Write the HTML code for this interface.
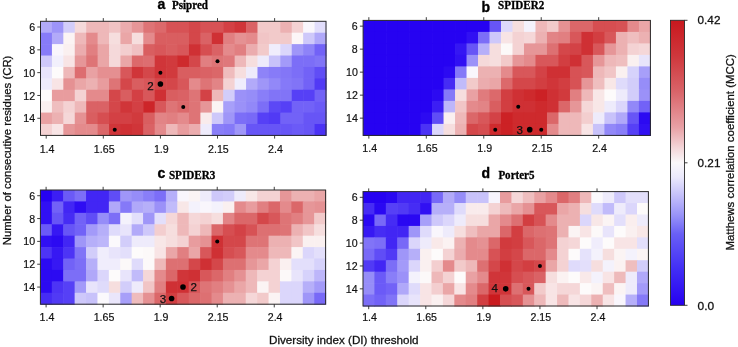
<!DOCTYPE html><html><head><meta charset="utf-8"><style>html,body{margin:0;padding:0;background:#fff;}svg{display:block;filter:blur(0.4px);}text{font-family:"Liberation Sans",sans-serif;}.tl{fill:#111;stroke:#111;stroke-width:0.18px;}.al{fill:#111;stroke:#111;stroke-width:0.28px;}</style></head><body>
<svg width="738" height="347" viewBox="0 0 738 347">
<defs><linearGradient id="cb" x1="0" y1="0" x2="0" y2="1"><stop offset="0" stop-color="rgb(200,24,30)"/><stop offset="0.125" stop-color="rgb(207,55,60)"/><stop offset="0.25" stop-color="rgb(217,100,105)"/><stop offset="0.375" stop-color="rgb(232,160,165)"/><stop offset="0.45" stop-color="rgb(244,215,218)"/><stop offset="0.5" stop-color="rgb(250,248,250)"/><stop offset="0.55" stop-color="rgb(235,233,252)"/><stop offset="0.625" stop-color="rgb(190,185,250)"/><stop offset="0.6875" stop-color="rgb(150,145,248)"/><stop offset="0.75" stop-color="rgb(105,95,245)"/><stop offset="0.875" stop-color="rgb(65,45,245)"/><stop offset="1" stop-color="rgb(38,0,240)"/></linearGradient></defs>
<rect width="738" height="347" fill="#fff"/>
<g>
<rect x="40.50" y="21.30" width="12.02" height="12.01" fill="#b2aaf9"/>
<rect x="51.92" y="21.30" width="12.02" height="12.01" fill="#9d94f8"/>
<rect x="63.34" y="21.30" width="12.02" height="12.01" fill="#d2cdfa"/>
<rect x="74.76" y="21.30" width="12.02" height="12.01" fill="#f5d9da"/>
<rect x="86.18" y="21.30" width="12.02" height="12.01" fill="#eeb8b9"/>
<rect x="97.60" y="21.30" width="12.02" height="12.01" fill="#eeb8b9"/>
<rect x="109.02" y="21.30" width="12.02" height="12.01" fill="#f0c3c4"/>
<rect x="120.44" y="21.30" width="12.02" height="12.01" fill="#ebacae"/>
<rect x="131.86" y="21.30" width="12.02" height="12.01" fill="#e69698"/>
<rect x="143.28" y="21.30" width="12.02" height="12.01" fill="#de7476"/>
<rect x="154.70" y="21.30" width="12.02" height="12.01" fill="#dc696b"/>
<rect x="166.12" y="21.30" width="12.02" height="12.01" fill="#d75255"/>
<rect x="177.54" y="21.30" width="12.02" height="12.01" fill="#d75255"/>
<rect x="188.96" y="21.30" width="12.02" height="12.01" fill="#d4474a"/>
<rect x="200.38" y="21.30" width="12.02" height="12.01" fill="#d75255"/>
<rect x="211.80" y="21.30" width="12.02" height="12.01" fill="#d75255"/>
<rect x="223.22" y="21.30" width="12.02" height="12.01" fill="#d34044"/>
<rect x="234.64" y="21.30" width="12.02" height="12.01" fill="#d03539"/>
<rect x="246.06" y="21.30" width="12.02" height="12.01" fill="#da6265"/>
<rect x="257.48" y="21.30" width="12.02" height="12.01" fill="#f2caca"/>
<rect x="268.90" y="21.30" width="12.02" height="12.01" fill="#f2caca"/>
<rect x="280.32" y="21.30" width="12.02" height="12.01" fill="#ecb1b2"/>
<rect x="291.74" y="21.30" width="12.02" height="12.01" fill="#f4d2d3"/>
<rect x="303.16" y="21.30" width="12.02" height="12.01" fill="#f9f6fc"/>
<rect x="314.58" y="21.30" width="12.02" height="12.01" fill="#e1ddfb"/>
<rect x="40.50" y="32.71" width="12.02" height="12.01" fill="#877bf8"/>
<rect x="51.92" y="32.71" width="12.02" height="12.01" fill="#b2aaf9"/>
<rect x="63.34" y="32.71" width="12.02" height="12.01" fill="#fbf4f4"/>
<rect x="74.76" y="32.71" width="12.02" height="12.01" fill="#eeb8b9"/>
<rect x="86.18" y="32.71" width="12.02" height="12.01" fill="#e48a8c"/>
<rect x="97.60" y="32.71" width="12.02" height="12.01" fill="#eeb8b9"/>
<rect x="109.02" y="32.71" width="12.02" height="12.01" fill="#f6dede"/>
<rect x="120.44" y="32.71" width="12.02" height="12.01" fill="#eaa6a7"/>
<rect x="131.86" y="32.71" width="12.02" height="12.01" fill="#f6dede"/>
<rect x="143.28" y="32.71" width="12.02" height="12.01" fill="#e48a8c"/>
<rect x="154.70" y="32.71" width="12.02" height="12.01" fill="#d95e60"/>
<rect x="166.12" y="32.71" width="12.02" height="12.01" fill="#d95e60"/>
<rect x="177.54" y="32.71" width="12.02" height="12.01" fill="#d95e60"/>
<rect x="188.96" y="32.71" width="12.02" height="12.01" fill="#d4474a"/>
<rect x="200.38" y="32.71" width="12.02" height="12.01" fill="#da6265"/>
<rect x="211.80" y="32.71" width="12.02" height="12.01" fill="#cf3034"/>
<rect x="223.22" y="32.71" width="12.02" height="12.01" fill="#e17f81"/>
<rect x="234.64" y="32.71" width="12.02" height="12.01" fill="#e59193"/>
<rect x="246.06" y="32.71" width="12.02" height="12.01" fill="#e48a8c"/>
<rect x="257.48" y="32.71" width="12.02" height="12.01" fill="#f1c5c6"/>
<rect x="268.90" y="32.71" width="12.02" height="12.01" fill="#f2caca"/>
<rect x="280.32" y="32.71" width="12.02" height="12.01" fill="#f2caca"/>
<rect x="291.74" y="32.71" width="12.02" height="12.01" fill="#fcf6f7"/>
<rect x="303.16" y="32.71" width="12.02" height="12.01" fill="#cec8fa"/>
<rect x="314.58" y="32.71" width="12.02" height="12.01" fill="#b0a8f9"/>
<rect x="40.50" y="44.12" width="12.02" height="12.01" fill="#877bf8"/>
<rect x="51.92" y="44.12" width="12.02" height="12.01" fill="#f9f6fc"/>
<rect x="63.34" y="44.12" width="12.02" height="12.01" fill="#faf0f0"/>
<rect x="74.76" y="44.12" width="12.02" height="12.01" fill="#ebacae"/>
<rect x="86.18" y="44.12" width="12.02" height="12.01" fill="#e17f81"/>
<rect x="97.60" y="44.12" width="12.02" height="12.01" fill="#eaa6a7"/>
<rect x="109.02" y="44.12" width="12.02" height="12.01" fill="#f5d9da"/>
<rect x="120.44" y="44.12" width="12.02" height="12.01" fill="#f3cecf"/>
<rect x="131.86" y="44.12" width="12.02" height="12.01" fill="#f0c0c2"/>
<rect x="143.28" y="44.12" width="12.02" height="12.01" fill="#d95e60"/>
<rect x="154.70" y="44.12" width="12.02" height="12.01" fill="#d8575a"/>
<rect x="166.12" y="44.12" width="12.02" height="12.01" fill="#d95e60"/>
<rect x="177.54" y="44.12" width="12.02" height="12.01" fill="#d8575a"/>
<rect x="188.96" y="44.12" width="12.02" height="12.01" fill="#cf3034"/>
<rect x="200.38" y="44.12" width="12.02" height="12.01" fill="#d64e51"/>
<rect x="211.80" y="44.12" width="12.02" height="12.01" fill="#da6265"/>
<rect x="223.22" y="44.12" width="12.02" height="12.01" fill="#e48a8c"/>
<rect x="234.64" y="44.12" width="12.02" height="12.01" fill="#e17f81"/>
<rect x="246.06" y="44.12" width="12.02" height="12.01" fill="#ebacae"/>
<rect x="257.48" y="44.12" width="12.02" height="12.01" fill="#f2caca"/>
<rect x="268.90" y="44.12" width="12.02" height="12.01" fill="#f0edfc"/>
<rect x="280.32" y="44.12" width="12.02" height="12.01" fill="#dbd6fb"/>
<rect x="291.74" y="44.12" width="12.02" height="12.01" fill="#9f96f8"/>
<rect x="303.16" y="44.12" width="12.02" height="12.01" fill="#8e83f8"/>
<rect x="314.58" y="44.12" width="12.02" height="12.01" fill="#7262f7"/>
<rect x="40.50" y="55.53" width="12.02" height="12.01" fill="#cec8fa"/>
<rect x="51.92" y="55.53" width="12.02" height="12.01" fill="#f2f0fc"/>
<rect x="63.34" y="55.53" width="12.02" height="12.01" fill="#f8e4e5"/>
<rect x="74.76" y="55.53" width="12.02" height="12.01" fill="#e69698"/>
<rect x="86.18" y="55.53" width="12.02" height="12.01" fill="#de7476"/>
<rect x="97.60" y="55.53" width="12.02" height="12.01" fill="#eaa6a7"/>
<rect x="109.02" y="55.53" width="12.02" height="12.01" fill="#f5d9da"/>
<rect x="120.44" y="55.53" width="12.02" height="12.01" fill="#eaa6a7"/>
<rect x="131.86" y="55.53" width="12.02" height="12.01" fill="#dc696b"/>
<rect x="143.28" y="55.53" width="12.02" height="12.01" fill="#dd6d70"/>
<rect x="154.70" y="55.53" width="12.02" height="12.01" fill="#d03539"/>
<rect x="166.12" y="55.53" width="12.02" height="12.01" fill="#d13a3d"/>
<rect x="177.54" y="55.53" width="12.02" height="12.01" fill="#ce2a2d"/>
<rect x="188.96" y="55.53" width="12.02" height="12.01" fill="#d4474a"/>
<rect x="200.38" y="55.53" width="12.02" height="12.01" fill="#e17f81"/>
<rect x="211.80" y="55.53" width="12.02" height="12.01" fill="#de7476"/>
<rect x="223.22" y="55.53" width="12.02" height="12.01" fill="#df787b"/>
<rect x="234.64" y="55.53" width="12.02" height="12.01" fill="#eeb8b9"/>
<rect x="246.06" y="55.53" width="12.02" height="12.01" fill="#f6dede"/>
<rect x="257.48" y="55.53" width="12.02" height="12.01" fill="#eeebfb"/>
<rect x="268.90" y="55.53" width="12.02" height="12.01" fill="#c8c2fa"/>
<rect x="280.32" y="55.53" width="12.02" height="12.01" fill="#a39af9"/>
<rect x="291.74" y="55.53" width="12.02" height="12.01" fill="#7c6ef7"/>
<rect x="303.16" y="55.53" width="12.02" height="12.01" fill="#7c6ef7"/>
<rect x="314.58" y="55.53" width="12.02" height="12.01" fill="#8174f7"/>
<rect x="40.50" y="66.94" width="12.02" height="12.01" fill="#e8e4fb"/>
<rect x="51.92" y="66.94" width="12.02" height="12.01" fill="#fdfbfb"/>
<rect x="63.34" y="66.94" width="12.02" height="12.01" fill="#eeb8b9"/>
<rect x="74.76" y="66.94" width="12.02" height="12.01" fill="#dd6d70"/>
<rect x="86.18" y="66.94" width="12.02" height="12.01" fill="#e9a1a3"/>
<rect x="97.60" y="66.94" width="12.02" height="12.01" fill="#e58f91"/>
<rect x="109.02" y="66.94" width="12.02" height="12.01" fill="#e58f91"/>
<rect x="120.44" y="66.94" width="12.02" height="12.01" fill="#d8575a"/>
<rect x="131.86" y="66.94" width="12.02" height="12.01" fill="#d03539"/>
<rect x="143.28" y="66.94" width="12.02" height="12.01" fill="#d4474a"/>
<rect x="154.70" y="66.94" width="12.02" height="12.01" fill="#d03539"/>
<rect x="166.12" y="66.94" width="12.02" height="12.01" fill="#d13a3d"/>
<rect x="177.54" y="66.94" width="12.02" height="12.01" fill="#d95e60"/>
<rect x="188.96" y="66.94" width="12.02" height="12.01" fill="#d95e60"/>
<rect x="200.38" y="66.94" width="12.02" height="12.01" fill="#da6265"/>
<rect x="211.80" y="66.94" width="12.02" height="12.01" fill="#db6769"/>
<rect x="223.22" y="66.94" width="12.02" height="12.01" fill="#efbcbd"/>
<rect x="234.64" y="66.94" width="12.02" height="12.01" fill="#f6dede"/>
<rect x="246.06" y="66.94" width="12.02" height="12.01" fill="#eeebfb"/>
<rect x="257.48" y="66.94" width="12.02" height="12.01" fill="#8e83f8"/>
<rect x="268.90" y="66.94" width="12.02" height="12.01" fill="#877bf8"/>
<rect x="280.32" y="66.94" width="12.02" height="12.01" fill="#8376f7"/>
<rect x="291.74" y="66.94" width="12.02" height="12.01" fill="#7c6ef7"/>
<rect x="303.16" y="66.94" width="12.02" height="12.01" fill="#7262f7"/>
<rect x="314.58" y="66.94" width="12.02" height="12.01" fill="#604df6"/>
<rect x="40.50" y="78.35" width="12.02" height="12.01" fill="#eeebfb"/>
<rect x="51.92" y="78.35" width="12.02" height="12.01" fill="#f8e4e5"/>
<rect x="63.34" y="78.35" width="12.02" height="12.01" fill="#e59193"/>
<rect x="74.76" y="78.35" width="12.02" height="12.01" fill="#eaa6a7"/>
<rect x="86.18" y="78.35" width="12.02" height="12.01" fill="#ecb1b2"/>
<rect x="97.60" y="78.35" width="12.02" height="12.01" fill="#e89c9e"/>
<rect x="109.02" y="78.35" width="12.02" height="12.01" fill="#de7476"/>
<rect x="120.44" y="78.35" width="12.02" height="12.01" fill="#d4474a"/>
<rect x="131.86" y="78.35" width="12.02" height="12.01" fill="#d95e60"/>
<rect x="143.28" y="78.35" width="12.02" height="12.01" fill="#d8575a"/>
<rect x="154.70" y="78.35" width="12.02" height="12.01" fill="#d4474a"/>
<rect x="166.12" y="78.35" width="12.02" height="12.01" fill="#d4474a"/>
<rect x="177.54" y="78.35" width="12.02" height="12.01" fill="#d8575a"/>
<rect x="188.96" y="78.35" width="12.02" height="12.01" fill="#e48a8c"/>
<rect x="200.38" y="78.35" width="12.02" height="12.01" fill="#de7476"/>
<rect x="211.80" y="78.35" width="12.02" height="12.01" fill="#e28486"/>
<rect x="223.22" y="78.35" width="12.02" height="12.01" fill="#f4d2d3"/>
<rect x="234.64" y="78.35" width="12.02" height="12.01" fill="#f0edfc"/>
<rect x="246.06" y="78.35" width="12.02" height="12.01" fill="#b2aaf9"/>
<rect x="257.48" y="78.35" width="12.02" height="12.01" fill="#9f96f8"/>
<rect x="268.90" y="78.35" width="12.02" height="12.01" fill="#9288f8"/>
<rect x="280.32" y="78.35" width="12.02" height="12.01" fill="#8579f8"/>
<rect x="291.74" y="78.35" width="12.02" height="12.01" fill="#8174f7"/>
<rect x="303.16" y="78.35" width="12.02" height="12.01" fill="#7262f7"/>
<rect x="314.58" y="78.35" width="12.02" height="12.01" fill="#513af5"/>
<rect x="40.50" y="89.76" width="12.02" height="12.01" fill="#fdfbfb"/>
<rect x="51.92" y="89.76" width="12.02" height="12.01" fill="#e89c9e"/>
<rect x="63.34" y="89.76" width="12.02" height="12.01" fill="#e89c9e"/>
<rect x="74.76" y="89.76" width="12.02" height="12.01" fill="#f4d2d3"/>
<rect x="86.18" y="89.76" width="12.02" height="12.01" fill="#e48a8c"/>
<rect x="97.60" y="89.76" width="12.02" height="12.01" fill="#e48a8c"/>
<rect x="109.02" y="89.76" width="12.02" height="12.01" fill="#d4474a"/>
<rect x="120.44" y="89.76" width="12.02" height="12.01" fill="#d95e60"/>
<rect x="131.86" y="89.76" width="12.02" height="12.01" fill="#d34044"/>
<rect x="143.28" y="89.76" width="12.02" height="12.01" fill="#d8575a"/>
<rect x="154.70" y="89.76" width="12.02" height="12.01" fill="#cf3034"/>
<rect x="166.12" y="89.76" width="12.02" height="12.01" fill="#d95e60"/>
<rect x="177.54" y="89.76" width="12.02" height="12.01" fill="#da6265"/>
<rect x="188.96" y="89.76" width="12.02" height="12.01" fill="#de7476"/>
<rect x="200.38" y="89.76" width="12.02" height="12.01" fill="#d34246"/>
<rect x="211.80" y="89.76" width="12.02" height="12.01" fill="#eeb8b9"/>
<rect x="223.22" y="89.76" width="12.02" height="12.01" fill="#d2cdfa"/>
<rect x="234.64" y="89.76" width="12.02" height="12.01" fill="#9b91f8"/>
<rect x="246.06" y="89.76" width="12.02" height="12.01" fill="#968df8"/>
<rect x="257.48" y="89.76" width="12.02" height="12.01" fill="#897ef8"/>
<rect x="268.90" y="89.76" width="12.02" height="12.01" fill="#8174f7"/>
<rect x="280.32" y="89.76" width="12.02" height="12.01" fill="#8174f7"/>
<rect x="291.74" y="89.76" width="12.02" height="12.01" fill="#5640f6"/>
<rect x="303.16" y="89.76" width="12.02" height="12.01" fill="#5640f6"/>
<rect x="314.58" y="89.76" width="12.02" height="12.01" fill="#7262f7"/>
<rect x="40.50" y="101.17" width="12.02" height="12.01" fill="#faf0f0"/>
<rect x="51.92" y="101.17" width="12.02" height="12.01" fill="#efbebf"/>
<rect x="63.34" y="101.17" width="12.02" height="12.01" fill="#f4d2d3"/>
<rect x="74.76" y="101.17" width="12.02" height="12.01" fill="#eeb8b9"/>
<rect x="86.18" y="101.17" width="12.02" height="12.01" fill="#da6265"/>
<rect x="97.60" y="101.17" width="12.02" height="12.01" fill="#da6265"/>
<rect x="109.02" y="101.17" width="12.02" height="12.01" fill="#d4474a"/>
<rect x="120.44" y="101.17" width="12.02" height="12.01" fill="#d03539"/>
<rect x="131.86" y="101.17" width="12.02" height="12.01" fill="#d34044"/>
<rect x="143.28" y="101.17" width="12.02" height="12.01" fill="#cd2529"/>
<rect x="154.70" y="101.17" width="12.02" height="12.01" fill="#d8575a"/>
<rect x="166.12" y="101.17" width="12.02" height="12.01" fill="#de7476"/>
<rect x="177.54" y="101.17" width="12.02" height="12.01" fill="#dc696b"/>
<rect x="188.96" y="101.17" width="12.02" height="12.01" fill="#de7476"/>
<rect x="200.38" y="101.17" width="12.02" height="12.01" fill="#e69698"/>
<rect x="211.80" y="101.17" width="12.02" height="12.01" fill="#fbf4f4"/>
<rect x="223.22" y="101.17" width="12.02" height="12.01" fill="#a79ff9"/>
<rect x="234.64" y="101.17" width="12.02" height="12.01" fill="#9b91f8"/>
<rect x="246.06" y="101.17" width="12.02" height="12.01" fill="#9288f8"/>
<rect x="257.48" y="101.17" width="12.02" height="12.01" fill="#7c6ef7"/>
<rect x="268.90" y="101.17" width="12.02" height="12.01" fill="#5c48f6"/>
<rect x="280.32" y="101.17" width="12.02" height="12.01" fill="#5640f6"/>
<rect x="291.74" y="101.17" width="12.02" height="12.01" fill="#7262f7"/>
<rect x="303.16" y="101.17" width="12.02" height="12.01" fill="#7262f7"/>
<rect x="314.58" y="101.17" width="12.02" height="12.01" fill="#6b5af7"/>
<rect x="40.50" y="112.58" width="12.02" height="12.01" fill="#e9a1a3"/>
<rect x="51.92" y="112.58" width="12.02" height="12.01" fill="#ecb1b2"/>
<rect x="63.34" y="112.58" width="12.02" height="12.01" fill="#f5d7d8"/>
<rect x="74.76" y="112.58" width="12.02" height="12.01" fill="#e59193"/>
<rect x="86.18" y="112.58" width="12.02" height="12.01" fill="#d95e60"/>
<rect x="97.60" y="112.58" width="12.02" height="12.01" fill="#d64e51"/>
<rect x="109.02" y="112.58" width="12.02" height="12.01" fill="#d34044"/>
<rect x="120.44" y="112.58" width="12.02" height="12.01" fill="#d34044"/>
<rect x="131.86" y="112.58" width="12.02" height="12.01" fill="#d13a3d"/>
<rect x="143.28" y="112.58" width="12.02" height="12.01" fill="#d95e60"/>
<rect x="154.70" y="112.58" width="12.02" height="12.01" fill="#e28486"/>
<rect x="166.12" y="112.58" width="12.02" height="12.01" fill="#e17f81"/>
<rect x="177.54" y="112.58" width="12.02" height="12.01" fill="#e48a8c"/>
<rect x="188.96" y="112.58" width="12.02" height="12.01" fill="#de7476"/>
<rect x="200.38" y="112.58" width="12.02" height="12.01" fill="#f9ebec"/>
<rect x="211.80" y="112.58" width="12.02" height="12.01" fill="#cec8fa"/>
<rect x="223.22" y="112.58" width="12.02" height="12.01" fill="#9f96f8"/>
<rect x="234.64" y="112.58" width="12.02" height="12.01" fill="#7c6ef7"/>
<rect x="246.06" y="112.58" width="12.02" height="12.01" fill="#7869f7"/>
<rect x="257.48" y="112.58" width="12.02" height="12.01" fill="#5640f6"/>
<rect x="268.90" y="112.58" width="12.02" height="12.01" fill="#513af5"/>
<rect x="280.32" y="112.58" width="12.02" height="12.01" fill="#7262f7"/>
<rect x="291.74" y="112.58" width="12.02" height="12.01" fill="#7262f7"/>
<rect x="303.16" y="112.58" width="12.02" height="12.01" fill="#6755f6"/>
<rect x="314.58" y="112.58" width="12.02" height="12.01" fill="#6755f6"/>
<rect x="40.50" y="123.99" width="12.02" height="12.01" fill="#f4d2d3"/>
<rect x="51.92" y="123.99" width="12.02" height="12.01" fill="#f8e4e5"/>
<rect x="63.34" y="123.99" width="12.02" height="12.01" fill="#e69698"/>
<rect x="74.76" y="123.99" width="12.02" height="12.01" fill="#e48a8c"/>
<rect x="86.18" y="123.99" width="12.02" height="12.01" fill="#e48a8c"/>
<rect x="97.60" y="123.99" width="12.02" height="12.01" fill="#db6769"/>
<rect x="109.02" y="123.99" width="12.02" height="12.01" fill="#d03539"/>
<rect x="120.44" y="123.99" width="12.02" height="12.01" fill="#cf3034"/>
<rect x="131.86" y="123.99" width="12.02" height="12.01" fill="#d03539"/>
<rect x="143.28" y="123.99" width="12.02" height="12.01" fill="#da6265"/>
<rect x="154.70" y="123.99" width="12.02" height="12.01" fill="#e48a8c"/>
<rect x="166.12" y="123.99" width="12.02" height="12.01" fill="#eeb8b9"/>
<rect x="177.54" y="123.99" width="12.02" height="12.01" fill="#e89c9e"/>
<rect x="188.96" y="123.99" width="12.02" height="12.01" fill="#ebacae"/>
<rect x="200.38" y="123.99" width="12.02" height="12.01" fill="#eeebfb"/>
<rect x="211.80" y="123.99" width="12.02" height="12.01" fill="#897ef8"/>
<rect x="223.22" y="123.99" width="12.02" height="12.01" fill="#8579f8"/>
<rect x="234.64" y="123.99" width="12.02" height="12.01" fill="#9f96f8"/>
<rect x="246.06" y="123.99" width="12.02" height="12.01" fill="#6755f6"/>
<rect x="257.48" y="123.99" width="12.02" height="12.01" fill="#6755f6"/>
<rect x="268.90" y="123.99" width="12.02" height="12.01" fill="#6755f6"/>
<rect x="280.32" y="123.99" width="12.02" height="12.01" fill="#6755f6"/>
<rect x="291.74" y="123.99" width="12.02" height="12.01" fill="#6b5af7"/>
<rect x="303.16" y="123.99" width="12.02" height="12.01" fill="#6755f6"/>
<rect x="314.58" y="123.99" width="12.02" height="12.01" fill="#4b32f5"/>
</g>
<rect x="40.50" y="21.30" width="285.50" height="114.10" fill="none" stroke="#2a2a2a" stroke-width="1"/>
<path d="M46.21 135.40v3.2M46.21 21.30v-3.2M40.50 27.01h-3.2M103.31 135.40v3.2M103.31 21.30v-3.2M40.50 49.83h-3.2M160.41 135.40v3.2M160.41 21.30v-3.2M40.50 72.64h-3.2M217.51 135.40v3.2M217.51 21.30v-3.2M40.50 95.47h-3.2M274.61 135.40v3.2M274.61 21.30v-3.2M40.50 118.28h-3.2" stroke="#2a2a2a" stroke-width="0.9" fill="none"/>
<text x="47.11" y="152.80" font-size="10.2" text-anchor="middle" textLength="14.79" lengthAdjust="spacingAndGlyphs" class="tl">1.4</text>
<text x="35.20" y="31.11" font-size="10.2" text-anchor="end" textLength="5.91" lengthAdjust="spacingAndGlyphs" class="tl">6</text>
<text x="104.21" y="152.80" font-size="10.2" text-anchor="middle" textLength="20.70" lengthAdjust="spacingAndGlyphs" class="tl">1.65</text>
<text x="35.20" y="53.93" font-size="10.2" text-anchor="end" textLength="5.91" lengthAdjust="spacingAndGlyphs" class="tl">8</text>
<text x="161.31" y="152.80" font-size="10.2" text-anchor="middle" textLength="14.79" lengthAdjust="spacingAndGlyphs" class="tl">1.9</text>
<text x="35.20" y="76.74" font-size="10.2" text-anchor="end" textLength="11.83" lengthAdjust="spacingAndGlyphs" class="tl">10</text>
<text x="218.41" y="152.80" font-size="10.2" text-anchor="middle" textLength="20.70" lengthAdjust="spacingAndGlyphs" class="tl">2.15</text>
<text x="35.20" y="99.56" font-size="10.2" text-anchor="end" textLength="11.83" lengthAdjust="spacingAndGlyphs" class="tl">12</text>
<text x="275.51" y="152.80" font-size="10.2" text-anchor="middle" textLength="14.79" lengthAdjust="spacingAndGlyphs" class="tl">2.4</text>
<text x="35.20" y="122.38" font-size="10.2" text-anchor="end" textLength="11.83" lengthAdjust="spacingAndGlyphs" class="tl">14</text>
<circle cx="160.41" cy="72.64" r="2.00" fill="#000"/>
<circle cx="160.41" cy="84.06" r="2.80" fill="#000"/>
<circle cx="183.25" cy="106.88" r="2.00" fill="#000"/>
<circle cx="217.51" cy="61.23" r="2.00" fill="#000"/>
<circle cx="114.73" cy="129.69" r="2.00" fill="#000"/>
<text x="147.30" y="89.50" font-size="11.6" fill="#111" stroke="#111" stroke-width="0.25">2</text>
<text x="157.60" y="8.90" font-size="14" font-weight="bold" fill="#000" stroke="#000" stroke-width="0.35">a</text>
<text x="172.00" y="8.65" font-size="11.7" font-weight="bold" style="font-family:'Liberation Serif',serif" textLength="36.0" lengthAdjust="spacingAndGlyphs" fill="#000" stroke="#000" stroke-width="0.3">Psipred</text>
<g>
<rect x="363.10" y="20.40" width="12.09" height="12.10" fill="#2602f2"/>
<rect x="374.59" y="20.40" width="12.09" height="12.10" fill="#2602f2"/>
<rect x="386.08" y="20.40" width="12.09" height="12.10" fill="#2602f2"/>
<rect x="397.58" y="20.40" width="12.09" height="12.10" fill="#2602f2"/>
<rect x="409.07" y="20.40" width="12.09" height="12.10" fill="#2602f2"/>
<rect x="420.56" y="20.40" width="12.09" height="12.10" fill="#2602f2"/>
<rect x="432.05" y="20.40" width="12.09" height="12.10" fill="#2602f2"/>
<rect x="443.54" y="20.40" width="12.09" height="12.10" fill="#2602f2"/>
<rect x="455.04" y="20.40" width="12.09" height="12.10" fill="#2602f2"/>
<rect x="466.53" y="20.40" width="12.09" height="12.10" fill="#2602f2"/>
<rect x="478.02" y="20.40" width="12.09" height="12.10" fill="#2602f2"/>
<rect x="489.51" y="20.40" width="12.09" height="12.10" fill="#6755f6"/>
<rect x="501.00" y="20.40" width="12.09" height="12.10" fill="#ddd8fb"/>
<rect x="512.50" y="20.40" width="12.09" height="12.10" fill="#f6dede"/>
<rect x="523.99" y="20.40" width="12.09" height="12.10" fill="#f4f2fc"/>
<rect x="535.48" y="20.40" width="12.09" height="12.10" fill="#eeb8b9"/>
<rect x="546.97" y="20.40" width="12.09" height="12.10" fill="#f2caca"/>
<rect x="558.46" y="20.40" width="12.09" height="12.10" fill="#e59193"/>
<rect x="569.96" y="20.40" width="12.09" height="12.10" fill="#db6769"/>
<rect x="581.45" y="20.40" width="12.09" height="12.10" fill="#db6769"/>
<rect x="592.94" y="20.40" width="12.09" height="12.10" fill="#d64e51"/>
<rect x="604.43" y="20.40" width="12.09" height="12.10" fill="#d64e51"/>
<rect x="615.92" y="20.40" width="12.09" height="12.10" fill="#d75255"/>
<rect x="627.42" y="20.40" width="12.09" height="12.10" fill="#e48a8c"/>
<rect x="638.91" y="20.40" width="12.09" height="12.10" fill="#eaa6a7"/>
<rect x="363.10" y="31.90" width="12.09" height="12.10" fill="#2602f2"/>
<rect x="374.59" y="31.90" width="12.09" height="12.10" fill="#2602f2"/>
<rect x="386.08" y="31.90" width="12.09" height="12.10" fill="#2602f2"/>
<rect x="397.58" y="31.90" width="12.09" height="12.10" fill="#2602f2"/>
<rect x="409.07" y="31.90" width="12.09" height="12.10" fill="#2602f2"/>
<rect x="420.56" y="31.90" width="12.09" height="12.10" fill="#2602f2"/>
<rect x="432.05" y="31.90" width="12.09" height="12.10" fill="#2602f2"/>
<rect x="443.54" y="31.90" width="12.09" height="12.10" fill="#2602f2"/>
<rect x="455.04" y="31.90" width="12.09" height="12.10" fill="#2602f2"/>
<rect x="466.53" y="31.90" width="12.09" height="12.10" fill="#3110f3"/>
<rect x="478.02" y="31.90" width="12.09" height="12.10" fill="#7c6ef7"/>
<rect x="489.51" y="31.90" width="12.09" height="12.10" fill="#cec8fa"/>
<rect x="501.00" y="31.90" width="12.09" height="12.10" fill="#f8e4e5"/>
<rect x="512.50" y="31.90" width="12.09" height="12.10" fill="#f4d2d3"/>
<rect x="523.99" y="31.90" width="12.09" height="12.10" fill="#f5d7d8"/>
<rect x="535.48" y="31.90" width="12.09" height="12.10" fill="#ecb1b2"/>
<rect x="546.97" y="31.90" width="12.09" height="12.10" fill="#e28486"/>
<rect x="558.46" y="31.90" width="12.09" height="12.10" fill="#e17f81"/>
<rect x="569.96" y="31.90" width="12.09" height="12.10" fill="#d8575a"/>
<rect x="581.45" y="31.90" width="12.09" height="12.10" fill="#cf3034"/>
<rect x="592.94" y="31.90" width="12.09" height="12.10" fill="#d23e41"/>
<rect x="604.43" y="31.90" width="12.09" height="12.10" fill="#d8575a"/>
<rect x="615.92" y="31.90" width="12.09" height="12.10" fill="#ecb1b2"/>
<rect x="627.42" y="31.90" width="12.09" height="12.10" fill="#efbebf"/>
<rect x="638.91" y="31.90" width="12.09" height="12.10" fill="#ecb1b2"/>
<rect x="363.10" y="43.40" width="12.09" height="12.10" fill="#2602f2"/>
<rect x="374.59" y="43.40" width="12.09" height="12.10" fill="#2602f2"/>
<rect x="386.08" y="43.40" width="12.09" height="12.10" fill="#2602f2"/>
<rect x="397.58" y="43.40" width="12.09" height="12.10" fill="#2602f2"/>
<rect x="409.07" y="43.40" width="12.09" height="12.10" fill="#2602f2"/>
<rect x="420.56" y="43.40" width="12.09" height="12.10" fill="#2602f2"/>
<rect x="432.05" y="43.40" width="12.09" height="12.10" fill="#2602f2"/>
<rect x="443.54" y="43.40" width="12.09" height="12.10" fill="#2602f2"/>
<rect x="455.04" y="43.40" width="12.09" height="12.10" fill="#3516f3"/>
<rect x="466.53" y="43.40" width="12.09" height="12.10" fill="#6755f6"/>
<rect x="478.02" y="43.40" width="12.09" height="12.10" fill="#b6aff9"/>
<rect x="489.51" y="43.40" width="12.09" height="12.10" fill="#f6dede"/>
<rect x="501.00" y="43.40" width="12.09" height="12.10" fill="#fcf9f9"/>
<rect x="512.50" y="43.40" width="12.09" height="12.10" fill="#f4d2d3"/>
<rect x="523.99" y="43.40" width="12.09" height="12.10" fill="#e69698"/>
<rect x="535.48" y="43.40" width="12.09" height="12.10" fill="#e69698"/>
<rect x="546.97" y="43.40" width="12.09" height="12.10" fill="#dd7072"/>
<rect x="558.46" y="43.40" width="12.09" height="12.10" fill="#d4474a"/>
<rect x="569.96" y="43.40" width="12.09" height="12.10" fill="#d34246"/>
<rect x="581.45" y="43.40" width="12.09" height="12.10" fill="#cf3034"/>
<rect x="592.94" y="43.40" width="12.09" height="12.10" fill="#d8575a"/>
<rect x="604.43" y="43.40" width="12.09" height="12.10" fill="#e69698"/>
<rect x="615.92" y="43.40" width="12.09" height="12.10" fill="#ecb1b2"/>
<rect x="627.42" y="43.40" width="12.09" height="12.10" fill="#f4d2d3"/>
<rect x="638.91" y="43.40" width="12.09" height="12.10" fill="#f5d7d8"/>
<rect x="363.10" y="54.90" width="12.09" height="12.10" fill="#2602f2"/>
<rect x="374.59" y="54.90" width="12.09" height="12.10" fill="#2602f2"/>
<rect x="386.08" y="54.90" width="12.09" height="12.10" fill="#2602f2"/>
<rect x="397.58" y="54.90" width="12.09" height="12.10" fill="#2602f2"/>
<rect x="409.07" y="54.90" width="12.09" height="12.10" fill="#2602f2"/>
<rect x="420.56" y="54.90" width="12.09" height="12.10" fill="#2602f2"/>
<rect x="432.05" y="54.90" width="12.09" height="12.10" fill="#2602f2"/>
<rect x="443.54" y="54.90" width="12.09" height="12.10" fill="#2602f2"/>
<rect x="455.04" y="54.90" width="12.09" height="12.10" fill="#3110f3"/>
<rect x="466.53" y="54.90" width="12.09" height="12.10" fill="#9b91f8"/>
<rect x="478.02" y="54.90" width="12.09" height="12.10" fill="#f5d9da"/>
<rect x="489.51" y="54.90" width="12.09" height="12.10" fill="#f6dede"/>
<rect x="501.00" y="54.90" width="12.09" height="12.10" fill="#f2caca"/>
<rect x="512.50" y="54.90" width="12.09" height="12.10" fill="#e69698"/>
<rect x="523.99" y="54.90" width="12.09" height="12.10" fill="#e48a8c"/>
<rect x="535.48" y="54.90" width="12.09" height="12.10" fill="#d8575a"/>
<rect x="546.97" y="54.90" width="12.09" height="12.10" fill="#d8575a"/>
<rect x="558.46" y="54.90" width="12.09" height="12.10" fill="#d23e41"/>
<rect x="569.96" y="54.90" width="12.09" height="12.10" fill="#cf3034"/>
<rect x="581.45" y="54.90" width="12.09" height="12.10" fill="#d8575a"/>
<rect x="592.94" y="54.90" width="12.09" height="12.10" fill="#e69698"/>
<rect x="604.43" y="54.90" width="12.09" height="12.10" fill="#eeb8b9"/>
<rect x="615.92" y="54.90" width="12.09" height="12.10" fill="#efbebf"/>
<rect x="627.42" y="54.90" width="12.09" height="12.10" fill="#faf0f0"/>
<rect x="638.91" y="54.90" width="12.09" height="12.10" fill="#e8e4fb"/>
<rect x="363.10" y="66.40" width="12.09" height="12.10" fill="#2602f2"/>
<rect x="374.59" y="66.40" width="12.09" height="12.10" fill="#2602f2"/>
<rect x="386.08" y="66.40" width="12.09" height="12.10" fill="#2602f2"/>
<rect x="397.58" y="66.40" width="12.09" height="12.10" fill="#2602f2"/>
<rect x="409.07" y="66.40" width="12.09" height="12.10" fill="#2602f2"/>
<rect x="420.56" y="66.40" width="12.09" height="12.10" fill="#2602f2"/>
<rect x="432.05" y="66.40" width="12.09" height="12.10" fill="#2602f2"/>
<rect x="443.54" y="66.40" width="12.09" height="12.10" fill="#2c0af2"/>
<rect x="455.04" y="66.40" width="12.09" height="12.10" fill="#8579f8"/>
<rect x="466.53" y="66.40" width="12.09" height="12.10" fill="#f9f6fc"/>
<rect x="478.02" y="66.40" width="12.09" height="12.10" fill="#ecb1b2"/>
<rect x="489.51" y="66.40" width="12.09" height="12.10" fill="#ecb1b2"/>
<rect x="501.00" y="66.40" width="12.09" height="12.10" fill="#e48a8c"/>
<rect x="512.50" y="66.40" width="12.09" height="12.10" fill="#d8575a"/>
<rect x="523.99" y="66.40" width="12.09" height="12.10" fill="#d8575a"/>
<rect x="535.48" y="66.40" width="12.09" height="12.10" fill="#d34246"/>
<rect x="546.97" y="66.40" width="12.09" height="12.10" fill="#cf3034"/>
<rect x="558.46" y="66.40" width="12.09" height="12.10" fill="#cf3034"/>
<rect x="569.96" y="66.40" width="12.09" height="12.10" fill="#d75255"/>
<rect x="581.45" y="66.40" width="12.09" height="12.10" fill="#d8575a"/>
<rect x="592.94" y="66.40" width="12.09" height="12.10" fill="#eeb8b9"/>
<rect x="604.43" y="66.40" width="12.09" height="12.10" fill="#f1c5c6"/>
<rect x="615.92" y="66.40" width="12.09" height="12.10" fill="#faf0f0"/>
<rect x="627.42" y="66.40" width="12.09" height="12.10" fill="#d6d2fb"/>
<rect x="638.91" y="66.40" width="12.09" height="12.10" fill="#a79ff9"/>
<rect x="363.10" y="77.90" width="12.09" height="12.10" fill="#2602f2"/>
<rect x="374.59" y="77.90" width="12.09" height="12.10" fill="#2602f2"/>
<rect x="386.08" y="77.90" width="12.09" height="12.10" fill="#2602f2"/>
<rect x="397.58" y="77.90" width="12.09" height="12.10" fill="#2602f2"/>
<rect x="409.07" y="77.90" width="12.09" height="12.10" fill="#2602f2"/>
<rect x="420.56" y="77.90" width="12.09" height="12.10" fill="#2602f2"/>
<rect x="432.05" y="77.90" width="12.09" height="12.10" fill="#2602f2"/>
<rect x="443.54" y="77.90" width="12.09" height="12.10" fill="#462cf4"/>
<rect x="455.04" y="77.90" width="12.09" height="12.10" fill="#c1bbfa"/>
<rect x="466.53" y="77.90" width="12.09" height="12.10" fill="#f2caca"/>
<rect x="478.02" y="77.90" width="12.09" height="12.10" fill="#ebacae"/>
<rect x="489.51" y="77.90" width="12.09" height="12.10" fill="#eaa6a7"/>
<rect x="501.00" y="77.90" width="12.09" height="12.10" fill="#dc696b"/>
<rect x="512.50" y="77.90" width="12.09" height="12.10" fill="#d4474a"/>
<rect x="523.99" y="77.90" width="12.09" height="12.10" fill="#d4474a"/>
<rect x="535.48" y="77.90" width="12.09" height="12.10" fill="#d23e41"/>
<rect x="546.97" y="77.90" width="12.09" height="12.10" fill="#d03539"/>
<rect x="558.46" y="77.90" width="12.09" height="12.10" fill="#d23e41"/>
<rect x="569.96" y="77.90" width="12.09" height="12.10" fill="#d75255"/>
<rect x="581.45" y="77.90" width="12.09" height="12.10" fill="#e69698"/>
<rect x="592.94" y="77.90" width="12.09" height="12.10" fill="#efbebf"/>
<rect x="604.43" y="77.90" width="12.09" height="12.10" fill="#f8e7e7"/>
<rect x="615.92" y="77.90" width="12.09" height="12.10" fill="#dfdbfb"/>
<rect x="627.42" y="77.90" width="12.09" height="12.10" fill="#d2cdfa"/>
<rect x="638.91" y="77.90" width="12.09" height="12.10" fill="#968df8"/>
<rect x="363.10" y="89.40" width="12.09" height="12.10" fill="#2602f2"/>
<rect x="374.59" y="89.40" width="12.09" height="12.10" fill="#2602f2"/>
<rect x="386.08" y="89.40" width="12.09" height="12.10" fill="#2602f2"/>
<rect x="397.58" y="89.40" width="12.09" height="12.10" fill="#2602f2"/>
<rect x="409.07" y="89.40" width="12.09" height="12.10" fill="#2602f2"/>
<rect x="420.56" y="89.40" width="12.09" height="12.10" fill="#2602f2"/>
<rect x="432.05" y="89.40" width="12.09" height="12.10" fill="#2c0af2"/>
<rect x="443.54" y="89.40" width="12.09" height="12.10" fill="#8579f8"/>
<rect x="455.04" y="89.40" width="12.09" height="12.10" fill="#f6dede"/>
<rect x="466.53" y="89.40" width="12.09" height="12.10" fill="#e9a1a3"/>
<rect x="478.02" y="89.40" width="12.09" height="12.10" fill="#e07b7d"/>
<rect x="489.51" y="89.40" width="12.09" height="12.10" fill="#dc696b"/>
<rect x="501.00" y="89.40" width="12.09" height="12.10" fill="#d23e41"/>
<rect x="512.50" y="89.40" width="12.09" height="12.10" fill="#cf3034"/>
<rect x="523.99" y="89.40" width="12.09" height="12.10" fill="#ce2a2d"/>
<rect x="535.48" y="89.40" width="12.09" height="12.10" fill="#cc2125"/>
<rect x="546.97" y="89.40" width="12.09" height="12.10" fill="#cf3034"/>
<rect x="558.46" y="89.40" width="12.09" height="12.10" fill="#d13a3d"/>
<rect x="569.96" y="89.40" width="12.09" height="12.10" fill="#e17f81"/>
<rect x="581.45" y="89.40" width="12.09" height="12.10" fill="#eeb8b9"/>
<rect x="592.94" y="89.40" width="12.09" height="12.10" fill="#f8e7e7"/>
<rect x="604.43" y="89.40" width="12.09" height="12.10" fill="#fdfbfb"/>
<rect x="615.92" y="89.40" width="12.09" height="12.10" fill="#eeebfb"/>
<rect x="627.42" y="89.40" width="12.09" height="12.10" fill="#d2cdfa"/>
<rect x="638.91" y="89.40" width="12.09" height="12.10" fill="#9b91f8"/>
<rect x="363.10" y="100.90" width="12.09" height="12.10" fill="#2602f2"/>
<rect x="374.59" y="100.90" width="12.09" height="12.10" fill="#2602f2"/>
<rect x="386.08" y="100.90" width="12.09" height="12.10" fill="#2602f2"/>
<rect x="397.58" y="100.90" width="12.09" height="12.10" fill="#2602f2"/>
<rect x="409.07" y="100.90" width="12.09" height="12.10" fill="#2602f2"/>
<rect x="420.56" y="100.90" width="12.09" height="12.10" fill="#2602f2"/>
<rect x="432.05" y="100.90" width="12.09" height="12.10" fill="#3c1ef4"/>
<rect x="443.54" y="100.90" width="12.09" height="12.10" fill="#bdb6fa"/>
<rect x="455.04" y="100.90" width="12.09" height="12.10" fill="#f1c5c6"/>
<rect x="466.53" y="100.90" width="12.09" height="12.10" fill="#e48a8c"/>
<rect x="478.02" y="100.90" width="12.09" height="12.10" fill="#e28486"/>
<rect x="489.51" y="100.90" width="12.09" height="12.10" fill="#d95e60"/>
<rect x="501.00" y="100.90" width="12.09" height="12.10" fill="#d23e41"/>
<rect x="512.50" y="100.90" width="12.09" height="12.10" fill="#cf3034"/>
<rect x="523.99" y="100.90" width="12.09" height="12.10" fill="#cf3034"/>
<rect x="535.48" y="100.90" width="12.09" height="12.10" fill="#ce2a2d"/>
<rect x="546.97" y="100.90" width="12.09" height="12.10" fill="#cf3034"/>
<rect x="558.46" y="100.90" width="12.09" height="12.10" fill="#db6769"/>
<rect x="569.96" y="100.90" width="12.09" height="12.10" fill="#e69698"/>
<rect x="581.45" y="100.90" width="12.09" height="12.10" fill="#f5d7d8"/>
<rect x="592.94" y="100.90" width="12.09" height="12.10" fill="#f8e7e7"/>
<rect x="604.43" y="100.90" width="12.09" height="12.10" fill="#eeebfb"/>
<rect x="615.92" y="100.90" width="12.09" height="12.10" fill="#dbd6fb"/>
<rect x="627.42" y="100.90" width="12.09" height="12.10" fill="#9288f8"/>
<rect x="638.91" y="100.90" width="12.09" height="12.10" fill="#7262f7"/>
<rect x="363.10" y="112.40" width="12.09" height="12.10" fill="#2602f2"/>
<rect x="374.59" y="112.40" width="12.09" height="12.10" fill="#2602f2"/>
<rect x="386.08" y="112.40" width="12.09" height="12.10" fill="#2602f2"/>
<rect x="397.58" y="112.40" width="12.09" height="12.10" fill="#2602f2"/>
<rect x="409.07" y="112.40" width="12.09" height="12.10" fill="#2602f2"/>
<rect x="420.56" y="112.40" width="12.09" height="12.10" fill="#2c0af2"/>
<rect x="432.05" y="112.40" width="12.09" height="12.10" fill="#604df6"/>
<rect x="443.54" y="112.40" width="12.09" height="12.10" fill="#faf0f0"/>
<rect x="455.04" y="112.40" width="12.09" height="12.10" fill="#eeb8b9"/>
<rect x="466.53" y="112.40" width="12.09" height="12.10" fill="#db6769"/>
<rect x="478.02" y="112.40" width="12.09" height="12.10" fill="#d8575a"/>
<rect x="489.51" y="112.40" width="12.09" height="12.10" fill="#d34246"/>
<rect x="501.00" y="112.40" width="12.09" height="12.10" fill="#cc2125"/>
<rect x="512.50" y="112.40" width="12.09" height="12.10" fill="#ce2a2d"/>
<rect x="523.99" y="112.40" width="12.09" height="12.10" fill="#ce2a2d"/>
<rect x="535.48" y="112.40" width="12.09" height="12.10" fill="#ce2a2d"/>
<rect x="546.97" y="112.40" width="12.09" height="12.10" fill="#db6769"/>
<rect x="558.46" y="112.40" width="12.09" height="12.10" fill="#eeb8b9"/>
<rect x="569.96" y="112.40" width="12.09" height="12.10" fill="#eeb8b9"/>
<rect x="581.45" y="112.40" width="12.09" height="12.10" fill="#f3cecf"/>
<rect x="592.94" y="112.40" width="12.09" height="12.10" fill="#eeebfb"/>
<rect x="604.43" y="112.40" width="12.09" height="12.10" fill="#c8c2fa"/>
<rect x="615.92" y="112.40" width="12.09" height="12.10" fill="#b0a8f9"/>
<rect x="627.42" y="112.40" width="12.09" height="12.10" fill="#6755f6"/>
<rect x="638.91" y="112.40" width="12.09" height="12.10" fill="#2c0af2"/>
<rect x="363.10" y="123.90" width="12.09" height="12.10" fill="#2602f2"/>
<rect x="374.59" y="123.90" width="12.09" height="12.10" fill="#2602f2"/>
<rect x="386.08" y="123.90" width="12.09" height="12.10" fill="#2602f2"/>
<rect x="397.58" y="123.90" width="12.09" height="12.10" fill="#2602f2"/>
<rect x="409.07" y="123.90" width="12.09" height="12.10" fill="#2602f2"/>
<rect x="420.56" y="123.90" width="12.09" height="12.10" fill="#4b32f5"/>
<rect x="432.05" y="123.90" width="12.09" height="12.10" fill="#dbd6fb"/>
<rect x="443.54" y="123.90" width="12.09" height="12.10" fill="#f6dede"/>
<rect x="455.04" y="123.90" width="12.09" height="12.10" fill="#ecb1b2"/>
<rect x="466.53" y="123.90" width="12.09" height="12.10" fill="#d4474a"/>
<rect x="478.02" y="123.90" width="12.09" height="12.10" fill="#d64e51"/>
<rect x="489.51" y="123.90" width="12.09" height="12.10" fill="#ce2a2d"/>
<rect x="501.00" y="123.90" width="12.09" height="12.10" fill="#cc2125"/>
<rect x="512.50" y="123.90" width="12.09" height="12.10" fill="#ce2a2d"/>
<rect x="523.99" y="123.90" width="12.09" height="12.10" fill="#ce2a2d"/>
<rect x="535.48" y="123.90" width="12.09" height="12.10" fill="#ce2a2d"/>
<rect x="546.97" y="123.90" width="12.09" height="12.10" fill="#e48a8c"/>
<rect x="558.46" y="123.90" width="12.09" height="12.10" fill="#eeb8b9"/>
<rect x="569.96" y="123.90" width="12.09" height="12.10" fill="#eeb8b9"/>
<rect x="581.45" y="123.90" width="12.09" height="12.10" fill="#f8e4e5"/>
<rect x="592.94" y="123.90" width="12.09" height="12.10" fill="#c8c2fa"/>
<rect x="604.43" y="123.90" width="12.09" height="12.10" fill="#9288f8"/>
<rect x="615.92" y="123.90" width="12.09" height="12.10" fill="#897ef8"/>
<rect x="627.42" y="123.90" width="12.09" height="12.10" fill="#5640f6"/>
<rect x="638.91" y="123.90" width="12.09" height="12.10" fill="#3110f3"/>
</g>
<rect x="363.10" y="20.40" width="287.30" height="115.00" fill="none" stroke="#2a2a2a" stroke-width="1"/>
<path d="M368.85 135.40v3.2M368.85 20.40v-3.2M363.10 26.15h-3.2M426.31 135.40v3.2M426.31 20.40v-3.2M363.10 49.15h-3.2M483.77 135.40v3.2M483.77 20.40v-3.2M363.10 72.15h-3.2M541.23 135.40v3.2M541.23 20.40v-3.2M363.10 95.15h-3.2M598.69 135.40v3.2M598.69 20.40v-3.2M363.10 118.15h-3.2" stroke="#2a2a2a" stroke-width="0.9" fill="none"/>
<text x="369.75" y="152.40" font-size="10.2" text-anchor="middle" textLength="14.79" lengthAdjust="spacingAndGlyphs" class="tl">1.4</text>
<text x="357.80" y="30.25" font-size="10.2" text-anchor="end" textLength="5.91" lengthAdjust="spacingAndGlyphs" class="tl">6</text>
<text x="427.21" y="152.40" font-size="10.2" text-anchor="middle" textLength="20.70" lengthAdjust="spacingAndGlyphs" class="tl">1.65</text>
<text x="357.80" y="53.25" font-size="10.2" text-anchor="end" textLength="5.91" lengthAdjust="spacingAndGlyphs" class="tl">8</text>
<text x="484.67" y="152.40" font-size="10.2" text-anchor="middle" textLength="14.79" lengthAdjust="spacingAndGlyphs" class="tl">1.9</text>
<text x="357.80" y="76.25" font-size="10.2" text-anchor="end" textLength="11.83" lengthAdjust="spacingAndGlyphs" class="tl">10</text>
<text x="542.13" y="152.40" font-size="10.2" text-anchor="middle" textLength="20.70" lengthAdjust="spacingAndGlyphs" class="tl">2.15</text>
<text x="357.80" y="99.25" font-size="10.2" text-anchor="end" textLength="11.83" lengthAdjust="spacingAndGlyphs" class="tl">12</text>
<text x="599.59" y="152.40" font-size="10.2" text-anchor="middle" textLength="14.79" lengthAdjust="spacingAndGlyphs" class="tl">2.4</text>
<text x="357.80" y="122.25" font-size="10.2" text-anchor="end" textLength="11.83" lengthAdjust="spacingAndGlyphs" class="tl">14</text>
<circle cx="495.26" cy="129.65" r="2.00" fill="#000"/>
<circle cx="518.24" cy="106.65" r="2.00" fill="#000"/>
<circle cx="529.73" cy="129.65" r="2.80" fill="#000"/>
<circle cx="541.23" cy="129.65" r="2.00" fill="#000"/>
<text x="516.40" y="133.90" font-size="11.6" fill="#111" stroke="#111" stroke-width="0.25">3</text>
<text x="481.50" y="11.50" font-size="14" font-weight="bold" fill="#000" stroke="#000" stroke-width="0.35">b</text>
<text x="498.00" y="8.65" font-size="11.7" font-weight="bold" style="font-family:'Liberation Serif',serif" textLength="46.2" lengthAdjust="spacingAndGlyphs" fill="#000" stroke="#000" stroke-width="0.3">SPIDER2</text>
<g>
<rect x="40.40" y="190.00" width="12.01" height="12.02" fill="#2602f2"/>
<rect x="51.81" y="190.00" width="12.01" height="12.02" fill="#3c1ef4"/>
<rect x="63.22" y="190.00" width="12.01" height="12.02" fill="#6b5af7"/>
<rect x="74.62" y="190.00" width="12.01" height="12.02" fill="#7c6ef7"/>
<rect x="86.03" y="190.00" width="12.01" height="12.02" fill="#4226f4"/>
<rect x="97.44" y="190.00" width="12.01" height="12.02" fill="#4226f4"/>
<rect x="108.85" y="190.00" width="12.01" height="12.02" fill="#604df6"/>
<rect x="120.26" y="190.00" width="12.01" height="12.02" fill="#9f96f8"/>
<rect x="131.66" y="190.00" width="12.01" height="12.02" fill="#968df8"/>
<rect x="143.07" y="190.00" width="12.01" height="12.02" fill="#897ef8"/>
<rect x="154.48" y="190.00" width="12.01" height="12.02" fill="#7c6ef7"/>
<rect x="165.89" y="190.00" width="12.01" height="12.02" fill="#b6aff9"/>
<rect x="177.30" y="190.00" width="12.01" height="12.02" fill="#f9f6fc"/>
<rect x="188.70" y="190.00" width="12.01" height="12.02" fill="#fbf4f4"/>
<rect x="200.11" y="190.00" width="12.01" height="12.02" fill="#eeebfb"/>
<rect x="211.52" y="190.00" width="12.01" height="12.02" fill="#cec8fa"/>
<rect x="222.93" y="190.00" width="12.01" height="12.02" fill="#d2cdfa"/>
<rect x="234.34" y="190.00" width="12.01" height="12.02" fill="#eeebfb"/>
<rect x="245.74" y="190.00" width="12.01" height="12.02" fill="#f8e7e7"/>
<rect x="257.15" y="190.00" width="12.01" height="12.02" fill="#f4d2d3"/>
<rect x="268.56" y="190.00" width="12.01" height="12.02" fill="#f4d2d3"/>
<rect x="279.97" y="190.00" width="12.01" height="12.02" fill="#e69698"/>
<rect x="291.38" y="190.00" width="12.01" height="12.02" fill="#ecb1b2"/>
<rect x="302.78" y="190.00" width="12.01" height="12.02" fill="#ecb1b2"/>
<rect x="314.19" y="190.00" width="12.01" height="12.02" fill="#eaa6a7"/>
<rect x="40.40" y="201.42" width="12.01" height="12.02" fill="#3110f3"/>
<rect x="51.81" y="201.42" width="12.01" height="12.02" fill="#7262f7"/>
<rect x="63.22" y="201.42" width="12.01" height="12.02" fill="#4226f4"/>
<rect x="74.62" y="201.42" width="12.01" height="12.02" fill="#2f0df3"/>
<rect x="86.03" y="201.42" width="12.01" height="12.02" fill="#4226f4"/>
<rect x="97.44" y="201.42" width="12.01" height="12.02" fill="#4226f4"/>
<rect x="108.85" y="201.42" width="12.01" height="12.02" fill="#b0a8f9"/>
<rect x="120.26" y="201.42" width="12.01" height="12.02" fill="#8579f8"/>
<rect x="131.66" y="201.42" width="12.01" height="12.02" fill="#b0a8f9"/>
<rect x="143.07" y="201.42" width="12.01" height="12.02" fill="#b6aff9"/>
<rect x="154.48" y="201.42" width="12.01" height="12.02" fill="#9b91f8"/>
<rect x="165.89" y="201.42" width="12.01" height="12.02" fill="#c1bbfa"/>
<rect x="177.30" y="201.42" width="12.01" height="12.02" fill="#f8e7e7"/>
<rect x="188.70" y="201.42" width="12.01" height="12.02" fill="#f4f2fc"/>
<rect x="200.11" y="201.42" width="12.01" height="12.02" fill="#f9f6fc"/>
<rect x="211.52" y="201.42" width="12.01" height="12.02" fill="#f4f2fc"/>
<rect x="222.93" y="201.42" width="12.01" height="12.02" fill="#faf0f0"/>
<rect x="234.34" y="201.42" width="12.01" height="12.02" fill="#e48a8c"/>
<rect x="245.74" y="201.42" width="12.01" height="12.02" fill="#e89c9e"/>
<rect x="257.15" y="201.42" width="12.01" height="12.02" fill="#e17f81"/>
<rect x="268.56" y="201.42" width="12.01" height="12.02" fill="#db6769"/>
<rect x="279.97" y="201.42" width="12.01" height="12.02" fill="#e48a8c"/>
<rect x="291.38" y="201.42" width="12.01" height="12.02" fill="#db6769"/>
<rect x="302.78" y="201.42" width="12.01" height="12.02" fill="#e69698"/>
<rect x="314.19" y="201.42" width="12.01" height="12.02" fill="#e59193"/>
<rect x="40.40" y="212.84" width="12.01" height="12.02" fill="#3110f3"/>
<rect x="51.81" y="212.84" width="12.01" height="12.02" fill="#6755f6"/>
<rect x="63.22" y="212.84" width="12.01" height="12.02" fill="#462cf4"/>
<rect x="74.62" y="212.84" width="12.01" height="12.02" fill="#7262f7"/>
<rect x="86.03" y="212.84" width="12.01" height="12.02" fill="#604df6"/>
<rect x="97.44" y="212.84" width="12.01" height="12.02" fill="#968df8"/>
<rect x="108.85" y="212.84" width="12.01" height="12.02" fill="#7c6ef7"/>
<rect x="120.26" y="212.84" width="12.01" height="12.02" fill="#f4f2fc"/>
<rect x="131.66" y="212.84" width="12.01" height="12.02" fill="#e3dffb"/>
<rect x="143.07" y="212.84" width="12.01" height="12.02" fill="#9f96f8"/>
<rect x="154.48" y="212.84" width="12.01" height="12.02" fill="#e3dffb"/>
<rect x="165.89" y="212.84" width="12.01" height="12.02" fill="#f5d7d8"/>
<rect x="177.30" y="212.84" width="12.01" height="12.02" fill="#eeb8b9"/>
<rect x="188.70" y="212.84" width="12.01" height="12.02" fill="#f5d7d8"/>
<rect x="200.11" y="212.84" width="12.01" height="12.02" fill="#f4d2d3"/>
<rect x="211.52" y="212.84" width="12.01" height="12.02" fill="#f6dede"/>
<rect x="222.93" y="212.84" width="12.01" height="12.02" fill="#e28486"/>
<rect x="234.34" y="212.84" width="12.01" height="12.02" fill="#db6769"/>
<rect x="245.74" y="212.84" width="12.01" height="12.02" fill="#db6769"/>
<rect x="257.15" y="212.84" width="12.01" height="12.02" fill="#d4474a"/>
<rect x="268.56" y="212.84" width="12.01" height="12.02" fill="#d8575a"/>
<rect x="279.97" y="212.84" width="12.01" height="12.02" fill="#de7476"/>
<rect x="291.38" y="212.84" width="12.01" height="12.02" fill="#e17f81"/>
<rect x="302.78" y="212.84" width="12.01" height="12.02" fill="#e69698"/>
<rect x="314.19" y="212.84" width="12.01" height="12.02" fill="#f2caca"/>
<rect x="40.40" y="224.26" width="12.01" height="12.02" fill="#6b5af7"/>
<rect x="51.81" y="224.26" width="12.01" height="12.02" fill="#3718f3"/>
<rect x="63.22" y="224.26" width="12.01" height="12.02" fill="#6755f6"/>
<rect x="74.62" y="224.26" width="12.01" height="12.02" fill="#7262f7"/>
<rect x="86.03" y="224.26" width="12.01" height="12.02" fill="#a39af9"/>
<rect x="97.44" y="224.26" width="12.01" height="12.02" fill="#b6aff9"/>
<rect x="108.85" y="224.26" width="12.01" height="12.02" fill="#dfdbfb"/>
<rect x="120.26" y="224.26" width="12.01" height="12.02" fill="#e8e4fb"/>
<rect x="131.66" y="224.26" width="12.01" height="12.02" fill="#b2aaf9"/>
<rect x="143.07" y="224.26" width="12.01" height="12.02" fill="#cec8fa"/>
<rect x="154.48" y="224.26" width="12.01" height="12.02" fill="#f3cecf"/>
<rect x="165.89" y="224.26" width="12.01" height="12.02" fill="#f6dede"/>
<rect x="177.30" y="224.26" width="12.01" height="12.02" fill="#eeb8b9"/>
<rect x="188.70" y="224.26" width="12.01" height="12.02" fill="#f4d2d3"/>
<rect x="200.11" y="224.26" width="12.01" height="12.02" fill="#eeb8b9"/>
<rect x="211.52" y="224.26" width="12.01" height="12.02" fill="#db6769"/>
<rect x="222.93" y="224.26" width="12.01" height="12.02" fill="#d64e51"/>
<rect x="234.34" y="224.26" width="12.01" height="12.02" fill="#d34246"/>
<rect x="245.74" y="224.26" width="12.01" height="12.02" fill="#d75255"/>
<rect x="257.15" y="224.26" width="12.01" height="12.02" fill="#dd7072"/>
<rect x="268.56" y="224.26" width="12.01" height="12.02" fill="#dd7072"/>
<rect x="279.97" y="224.26" width="12.01" height="12.02" fill="#de7476"/>
<rect x="291.38" y="224.26" width="12.01" height="12.02" fill="#ecb1b2"/>
<rect x="302.78" y="224.26" width="12.01" height="12.02" fill="#f1c5c6"/>
<rect x="314.19" y="224.26" width="12.01" height="12.02" fill="#f6dede"/>
<rect x="40.40" y="235.68" width="12.01" height="12.02" fill="#3110f3"/>
<rect x="51.81" y="235.68" width="12.01" height="12.02" fill="#2c0af2"/>
<rect x="63.22" y="235.68" width="12.01" height="12.02" fill="#4226f4"/>
<rect x="74.62" y="235.68" width="12.01" height="12.02" fill="#9f96f8"/>
<rect x="86.03" y="235.68" width="12.01" height="12.02" fill="#b6aff9"/>
<rect x="97.44" y="235.68" width="12.01" height="12.02" fill="#bdb6fa"/>
<rect x="108.85" y="235.68" width="12.01" height="12.02" fill="#fbf9fc"/>
<rect x="120.26" y="235.68" width="12.01" height="12.02" fill="#d2cdfa"/>
<rect x="131.66" y="235.68" width="12.01" height="12.02" fill="#eeebfb"/>
<rect x="143.07" y="235.68" width="12.01" height="12.02" fill="#eeebfb"/>
<rect x="154.48" y="235.68" width="12.01" height="12.02" fill="#f8e7e7"/>
<rect x="165.89" y="235.68" width="12.01" height="12.02" fill="#f6dede"/>
<rect x="177.30" y="235.68" width="12.01" height="12.02" fill="#f4d2d3"/>
<rect x="188.70" y="235.68" width="12.01" height="12.02" fill="#e89c9e"/>
<rect x="200.11" y="235.68" width="12.01" height="12.02" fill="#e59193"/>
<rect x="211.52" y="235.68" width="12.01" height="12.02" fill="#cf3034"/>
<rect x="222.93" y="235.68" width="12.01" height="12.02" fill="#d4474a"/>
<rect x="234.34" y="235.68" width="12.01" height="12.02" fill="#d4474a"/>
<rect x="245.74" y="235.68" width="12.01" height="12.02" fill="#de7476"/>
<rect x="257.15" y="235.68" width="12.01" height="12.02" fill="#de7476"/>
<rect x="268.56" y="235.68" width="12.01" height="12.02" fill="#ecb1b2"/>
<rect x="279.97" y="235.68" width="12.01" height="12.02" fill="#ecb1b2"/>
<rect x="291.38" y="235.68" width="12.01" height="12.02" fill="#f1c5c6"/>
<rect x="302.78" y="235.68" width="12.01" height="12.02" fill="#faf0f0"/>
<rect x="314.19" y="235.68" width="12.01" height="12.02" fill="#faf0f0"/>
<rect x="40.40" y="247.10" width="12.01" height="12.02" fill="#4d34f5"/>
<rect x="51.81" y="247.10" width="12.01" height="12.02" fill="#3718f3"/>
<rect x="63.22" y="247.10" width="12.01" height="12.02" fill="#4d34f5"/>
<rect x="74.62" y="247.10" width="12.01" height="12.02" fill="#8174f7"/>
<rect x="86.03" y="247.10" width="12.01" height="12.02" fill="#d2cdfa"/>
<rect x="97.44" y="247.10" width="12.01" height="12.02" fill="#f0edfc"/>
<rect x="108.85" y="247.10" width="12.01" height="12.02" fill="#e8e4fb"/>
<rect x="120.26" y="247.10" width="12.01" height="12.02" fill="#e3dffb"/>
<rect x="131.66" y="247.10" width="12.01" height="12.02" fill="#fdfbfb"/>
<rect x="143.07" y="247.10" width="12.01" height="12.02" fill="#fcf9f9"/>
<rect x="154.48" y="247.10" width="12.01" height="12.02" fill="#f8e4e5"/>
<rect x="165.89" y="247.10" width="12.01" height="12.02" fill="#eaa6a7"/>
<rect x="177.30" y="247.10" width="12.01" height="12.02" fill="#e17f81"/>
<rect x="188.70" y="247.10" width="12.01" height="12.02" fill="#eaa6a7"/>
<rect x="200.11" y="247.10" width="12.01" height="12.02" fill="#d8575a"/>
<rect x="211.52" y="247.10" width="12.01" height="12.02" fill="#cf3034"/>
<rect x="222.93" y="247.10" width="12.01" height="12.02" fill="#d64e51"/>
<rect x="234.34" y="247.10" width="12.01" height="12.02" fill="#d8575a"/>
<rect x="245.74" y="247.10" width="12.01" height="12.02" fill="#e48a8c"/>
<rect x="257.15" y="247.10" width="12.01" height="12.02" fill="#e48a8c"/>
<rect x="268.56" y="247.10" width="12.01" height="12.02" fill="#eeb8b9"/>
<rect x="279.97" y="247.10" width="12.01" height="12.02" fill="#eeb8b9"/>
<rect x="291.38" y="247.10" width="12.01" height="12.02" fill="#fbf4f4"/>
<rect x="302.78" y="247.10" width="12.01" height="12.02" fill="#dbd6fb"/>
<rect x="314.19" y="247.10" width="12.01" height="12.02" fill="#e3dffb"/>
<rect x="40.40" y="258.52" width="12.01" height="12.02" fill="#2c0af2"/>
<rect x="51.81" y="258.52" width="12.01" height="12.02" fill="#3718f3"/>
<rect x="63.22" y="258.52" width="12.01" height="12.02" fill="#7262f7"/>
<rect x="74.62" y="258.52" width="12.01" height="12.02" fill="#7c6ef7"/>
<rect x="86.03" y="258.52" width="12.01" height="12.02" fill="#b6aff9"/>
<rect x="97.44" y="258.52" width="12.01" height="12.02" fill="#f0edfc"/>
<rect x="108.85" y="258.52" width="12.01" height="12.02" fill="#f0edfc"/>
<rect x="120.26" y="258.52" width="12.01" height="12.02" fill="#fcf9f9"/>
<rect x="131.66" y="258.52" width="12.01" height="12.02" fill="#dfdbfb"/>
<rect x="143.07" y="258.52" width="12.01" height="12.02" fill="#fcf9f9"/>
<rect x="154.48" y="258.52" width="12.01" height="12.02" fill="#eeb8b9"/>
<rect x="165.89" y="258.52" width="12.01" height="12.02" fill="#dd7072"/>
<rect x="177.30" y="258.52" width="12.01" height="12.02" fill="#dd7072"/>
<rect x="188.70" y="258.52" width="12.01" height="12.02" fill="#d4474a"/>
<rect x="200.11" y="258.52" width="12.01" height="12.02" fill="#cf3034"/>
<rect x="211.52" y="258.52" width="12.01" height="12.02" fill="#d4474a"/>
<rect x="222.93" y="258.52" width="12.01" height="12.02" fill="#dd7072"/>
<rect x="234.34" y="258.52" width="12.01" height="12.02" fill="#dd7072"/>
<rect x="245.74" y="258.52" width="12.01" height="12.02" fill="#e69698"/>
<rect x="257.15" y="258.52" width="12.01" height="12.02" fill="#eaa6a7"/>
<rect x="268.56" y="258.52" width="12.01" height="12.02" fill="#f4d2d3"/>
<rect x="279.97" y="258.52" width="12.01" height="12.02" fill="#faf0f0"/>
<rect x="291.38" y="258.52" width="12.01" height="12.02" fill="#e3dffb"/>
<rect x="302.78" y="258.52" width="12.01" height="12.02" fill="#e3dffb"/>
<rect x="314.19" y="258.52" width="12.01" height="12.02" fill="#d6d2fb"/>
<rect x="40.40" y="269.94" width="12.01" height="12.02" fill="#2c0af2"/>
<rect x="51.81" y="269.94" width="12.01" height="12.02" fill="#2c0af2"/>
<rect x="63.22" y="269.94" width="12.01" height="12.02" fill="#7c6ef7"/>
<rect x="74.62" y="269.94" width="12.01" height="12.02" fill="#7c6ef7"/>
<rect x="86.03" y="269.94" width="12.01" height="12.02" fill="#b0a8f9"/>
<rect x="97.44" y="269.94" width="12.01" height="12.02" fill="#dbd6fb"/>
<rect x="108.85" y="269.94" width="12.01" height="12.02" fill="#fdfbfb"/>
<rect x="120.26" y="269.94" width="12.01" height="12.02" fill="#e8e4fb"/>
<rect x="131.66" y="269.94" width="12.01" height="12.02" fill="#c1bbfa"/>
<rect x="143.07" y="269.94" width="12.01" height="12.02" fill="#f5d7d8"/>
<rect x="154.48" y="269.94" width="12.01" height="12.02" fill="#e48a8c"/>
<rect x="165.89" y="269.94" width="12.01" height="12.02" fill="#db6769"/>
<rect x="177.30" y="269.94" width="12.01" height="12.02" fill="#d03539"/>
<rect x="188.70" y="269.94" width="12.01" height="12.02" fill="#cf3034"/>
<rect x="200.11" y="269.94" width="12.01" height="12.02" fill="#d8575a"/>
<rect x="211.52" y="269.94" width="12.01" height="12.02" fill="#db6769"/>
<rect x="222.93" y="269.94" width="12.01" height="12.02" fill="#e17f81"/>
<rect x="234.34" y="269.94" width="12.01" height="12.02" fill="#e59193"/>
<rect x="245.74" y="269.94" width="12.01" height="12.02" fill="#eeb8b9"/>
<rect x="257.15" y="269.94" width="12.01" height="12.02" fill="#f4d2d3"/>
<rect x="268.56" y="269.94" width="12.01" height="12.02" fill="#f4d2d3"/>
<rect x="279.97" y="269.94" width="12.01" height="12.02" fill="#fcf9f9"/>
<rect x="291.38" y="269.94" width="12.01" height="12.02" fill="#e8e4fb"/>
<rect x="302.78" y="269.94" width="12.01" height="12.02" fill="#d6d2fb"/>
<rect x="314.19" y="269.94" width="12.01" height="12.02" fill="#bdb6fa"/>
<rect x="40.40" y="281.36" width="12.01" height="12.02" fill="#2c0af2"/>
<rect x="51.81" y="281.36" width="12.01" height="12.02" fill="#4d34f5"/>
<rect x="63.22" y="281.36" width="12.01" height="12.02" fill="#5640f6"/>
<rect x="74.62" y="281.36" width="12.01" height="12.02" fill="#a39af9"/>
<rect x="86.03" y="281.36" width="12.01" height="12.02" fill="#e8e4fb"/>
<rect x="97.44" y="281.36" width="12.01" height="12.02" fill="#dfdbfb"/>
<rect x="108.85" y="281.36" width="12.01" height="12.02" fill="#f6dede"/>
<rect x="120.26" y="281.36" width="12.01" height="12.02" fill="#d2cdfa"/>
<rect x="131.66" y="281.36" width="12.01" height="12.02" fill="#eeebfb"/>
<rect x="143.07" y="281.36" width="12.01" height="12.02" fill="#f1c5c6"/>
<rect x="154.48" y="281.36" width="12.01" height="12.02" fill="#e17f81"/>
<rect x="165.89" y="281.36" width="12.01" height="12.02" fill="#cf3034"/>
<rect x="177.30" y="281.36" width="12.01" height="12.02" fill="#cf3034"/>
<rect x="188.70" y="281.36" width="12.01" height="12.02" fill="#d8575a"/>
<rect x="200.11" y="281.36" width="12.01" height="12.02" fill="#de7476"/>
<rect x="211.52" y="281.36" width="12.01" height="12.02" fill="#e17f81"/>
<rect x="222.93" y="281.36" width="12.01" height="12.02" fill="#e59193"/>
<rect x="234.34" y="281.36" width="12.01" height="12.02" fill="#eaa6a7"/>
<rect x="245.74" y="281.36" width="12.01" height="12.02" fill="#eeb8b9"/>
<rect x="257.15" y="281.36" width="12.01" height="12.02" fill="#fbf4f4"/>
<rect x="268.56" y="281.36" width="12.01" height="12.02" fill="#f4d2d3"/>
<rect x="279.97" y="281.36" width="12.01" height="12.02" fill="#dbd6fb"/>
<rect x="291.38" y="281.36" width="12.01" height="12.02" fill="#dbd6fb"/>
<rect x="302.78" y="281.36" width="12.01" height="12.02" fill="#b6aff9"/>
<rect x="314.19" y="281.36" width="12.01" height="12.02" fill="#a39af9"/>
<rect x="40.40" y="292.78" width="12.01" height="12.02" fill="#462cf4"/>
<rect x="51.81" y="292.78" width="12.01" height="12.02" fill="#513af5"/>
<rect x="63.22" y="292.78" width="12.01" height="12.02" fill="#5640f6"/>
<rect x="74.62" y="292.78" width="12.01" height="12.02" fill="#cec8fa"/>
<rect x="86.03" y="292.78" width="12.01" height="12.02" fill="#c8c2fa"/>
<rect x="97.44" y="292.78" width="12.01" height="12.02" fill="#fbf9fc"/>
<rect x="108.85" y="292.78" width="12.01" height="12.02" fill="#eae6fb"/>
<rect x="120.26" y="292.78" width="12.01" height="12.02" fill="#a79ff9"/>
<rect x="131.66" y="292.78" width="12.01" height="12.02" fill="#efbcbd"/>
<rect x="143.07" y="292.78" width="12.01" height="12.02" fill="#e59193"/>
<rect x="154.48" y="292.78" width="12.01" height="12.02" fill="#db6769"/>
<rect x="165.89" y="292.78" width="12.01" height="12.02" fill="#d23e41"/>
<rect x="177.30" y="292.78" width="12.01" height="12.02" fill="#d8575a"/>
<rect x="188.70" y="292.78" width="12.01" height="12.02" fill="#db6769"/>
<rect x="200.11" y="292.78" width="12.01" height="12.02" fill="#dd7072"/>
<rect x="211.52" y="292.78" width="12.01" height="12.02" fill="#e48a8c"/>
<rect x="222.93" y="292.78" width="12.01" height="12.02" fill="#ecb1b2"/>
<rect x="234.34" y="292.78" width="12.01" height="12.02" fill="#ecb1b2"/>
<rect x="245.74" y="292.78" width="12.01" height="12.02" fill="#f5d7d8"/>
<rect x="257.15" y="292.78" width="12.01" height="12.02" fill="#f2caca"/>
<rect x="268.56" y="292.78" width="12.01" height="12.02" fill="#fbf4f4"/>
<rect x="279.97" y="292.78" width="12.01" height="12.02" fill="#dbd6fb"/>
<rect x="291.38" y="292.78" width="12.01" height="12.02" fill="#dbd6fb"/>
<rect x="302.78" y="292.78" width="12.01" height="12.02" fill="#9f96f8"/>
<rect x="314.19" y="292.78" width="12.01" height="12.02" fill="#7869f7"/>
</g>
<rect x="40.40" y="190.00" width="285.20" height="114.20" fill="none" stroke="#2a2a2a" stroke-width="1"/>
<path d="M46.10 304.20v3.2M46.10 190.00v-3.2M40.40 195.71h-3.2M103.14 304.20v3.2M103.14 190.00v-3.2M40.40 218.55h-3.2M160.18 304.20v3.2M160.18 190.00v-3.2M40.40 241.39h-3.2M217.22 304.20v3.2M217.22 190.00v-3.2M40.40 264.23h-3.2M274.26 304.20v3.2M274.26 190.00v-3.2M40.40 287.07h-3.2" stroke="#2a2a2a" stroke-width="0.9" fill="none"/>
<text x="47.00" y="321.30" font-size="10.2" text-anchor="middle" textLength="14.79" lengthAdjust="spacingAndGlyphs" class="tl">1.4</text>
<text x="35.10" y="199.81" font-size="10.2" text-anchor="end" textLength="5.91" lengthAdjust="spacingAndGlyphs" class="tl">6</text>
<text x="104.04" y="321.30" font-size="10.2" text-anchor="middle" textLength="20.70" lengthAdjust="spacingAndGlyphs" class="tl">1.65</text>
<text x="35.10" y="222.65" font-size="10.2" text-anchor="end" textLength="5.91" lengthAdjust="spacingAndGlyphs" class="tl">8</text>
<text x="161.08" y="321.30" font-size="10.2" text-anchor="middle" textLength="14.79" lengthAdjust="spacingAndGlyphs" class="tl">1.9</text>
<text x="35.10" y="245.49" font-size="10.2" text-anchor="end" textLength="11.83" lengthAdjust="spacingAndGlyphs" class="tl">10</text>
<text x="218.12" y="321.30" font-size="10.2" text-anchor="middle" textLength="20.70" lengthAdjust="spacingAndGlyphs" class="tl">2.15</text>
<text x="35.10" y="268.33" font-size="10.2" text-anchor="end" textLength="11.83" lengthAdjust="spacingAndGlyphs" class="tl">12</text>
<text x="275.16" y="321.30" font-size="10.2" text-anchor="middle" textLength="14.79" lengthAdjust="spacingAndGlyphs" class="tl">2.4</text>
<text x="35.10" y="291.17" font-size="10.2" text-anchor="end" textLength="11.83" lengthAdjust="spacingAndGlyphs" class="tl">14</text>
<circle cx="217.22" cy="241.39" r="2.00" fill="#000"/>
<circle cx="183.00" cy="287.07" r="2.80" fill="#000"/>
<circle cx="171.59" cy="298.49" r="2.80" fill="#000"/>
<text x="190.60" y="291.10" font-size="11.6" fill="#111" stroke="#111" stroke-width="0.25">2</text>
<text x="159.80" y="302.90" font-size="11.6" fill="#111" stroke="#111" stroke-width="0.25">3</text>
<text x="157.60" y="177.90" font-size="14" font-weight="bold" fill="#000" stroke="#000" stroke-width="0.35">c</text>
<text x="168.90" y="178.55" font-size="11.7" font-weight="bold" style="font-family:'Liberation Serif',serif" textLength="46.5" lengthAdjust="spacingAndGlyphs" fill="#000" stroke="#000" stroke-width="0.3">SPIDER3</text>
<g>
<rect x="363.00" y="191.60" width="12.02" height="12.04" fill="#2602f2"/>
<rect x="374.42" y="191.60" width="12.02" height="12.04" fill="#2602f2"/>
<rect x="385.83" y="191.60" width="12.02" height="12.04" fill="#2a08f2"/>
<rect x="397.25" y="191.60" width="12.02" height="12.04" fill="#4226f4"/>
<rect x="408.66" y="191.60" width="12.02" height="12.04" fill="#4226f4"/>
<rect x="420.08" y="191.60" width="12.02" height="12.04" fill="#4226f4"/>
<rect x="431.50" y="191.60" width="12.02" height="12.04" fill="#7869f7"/>
<rect x="442.91" y="191.60" width="12.02" height="12.04" fill="#b2aaf9"/>
<rect x="454.33" y="191.60" width="12.02" height="12.04" fill="#968df8"/>
<rect x="465.74" y="191.60" width="12.02" height="12.04" fill="#c8c2fa"/>
<rect x="477.16" y="191.60" width="12.02" height="12.04" fill="#c8c2fa"/>
<rect x="488.58" y="191.60" width="12.02" height="12.04" fill="#f7f4fc"/>
<rect x="499.99" y="191.60" width="12.02" height="12.04" fill="#e89c9e"/>
<rect x="511.41" y="191.60" width="12.02" height="12.04" fill="#f5d7d8"/>
<rect x="522.82" y="191.60" width="12.02" height="12.04" fill="#efbebf"/>
<rect x="534.24" y="191.60" width="12.02" height="12.04" fill="#e9a1a3"/>
<rect x="545.66" y="191.60" width="12.02" height="12.04" fill="#e48a8c"/>
<rect x="557.07" y="191.60" width="12.02" height="12.04" fill="#db6769"/>
<rect x="568.49" y="191.60" width="12.02" height="12.04" fill="#e17f81"/>
<rect x="579.90" y="191.60" width="12.02" height="12.04" fill="#eeb8b9"/>
<rect x="591.32" y="191.60" width="12.02" height="12.04" fill="#fbf9fc"/>
<rect x="602.74" y="191.60" width="12.02" height="12.04" fill="#eeebfb"/>
<rect x="614.15" y="191.60" width="12.02" height="12.04" fill="#cec8fa"/>
<rect x="625.57" y="191.60" width="12.02" height="12.04" fill="#e3dffb"/>
<rect x="636.98" y="191.60" width="12.02" height="12.04" fill="#e3dffb"/>
<rect x="363.00" y="203.04" width="12.02" height="12.04" fill="#462cf4"/>
<rect x="374.42" y="203.04" width="12.02" height="12.04" fill="#2a08f2"/>
<rect x="385.83" y="203.04" width="12.02" height="12.04" fill="#5640f6"/>
<rect x="397.25" y="203.04" width="12.02" height="12.04" fill="#513af5"/>
<rect x="408.66" y="203.04" width="12.02" height="12.04" fill="#462cf4"/>
<rect x="420.08" y="203.04" width="12.02" height="12.04" fill="#3110f3"/>
<rect x="431.50" y="203.04" width="12.02" height="12.04" fill="#b6aff9"/>
<rect x="442.91" y="203.04" width="12.02" height="12.04" fill="#b6aff9"/>
<rect x="454.33" y="203.04" width="12.02" height="12.04" fill="#dfdbfb"/>
<rect x="465.74" y="203.04" width="12.02" height="12.04" fill="#f9ebec"/>
<rect x="477.16" y="203.04" width="12.02" height="12.04" fill="#f9ebec"/>
<rect x="488.58" y="203.04" width="12.02" height="12.04" fill="#f4d2d3"/>
<rect x="499.99" y="203.04" width="12.02" height="12.04" fill="#eebabb"/>
<rect x="511.41" y="203.04" width="12.02" height="12.04" fill="#eaa6a7"/>
<rect x="522.82" y="203.04" width="12.02" height="12.04" fill="#e59193"/>
<rect x="534.24" y="203.04" width="12.02" height="12.04" fill="#d8575a"/>
<rect x="545.66" y="203.04" width="12.02" height="12.04" fill="#d8575a"/>
<rect x="557.07" y="203.04" width="12.02" height="12.04" fill="#eaa6a7"/>
<rect x="568.49" y="203.04" width="12.02" height="12.04" fill="#ecb1b2"/>
<rect x="579.90" y="203.04" width="12.02" height="12.04" fill="#f6dede"/>
<rect x="591.32" y="203.04" width="12.02" height="12.04" fill="#dfdbfb"/>
<rect x="602.74" y="203.04" width="12.02" height="12.04" fill="#c1bbfa"/>
<rect x="614.15" y="203.04" width="12.02" height="12.04" fill="#eeebfb"/>
<rect x="625.57" y="203.04" width="12.02" height="12.04" fill="#dbd6fb"/>
<rect x="636.98" y="203.04" width="12.02" height="12.04" fill="#fdfbfb"/>
<rect x="363.00" y="214.48" width="12.02" height="12.04" fill="#2a08f2"/>
<rect x="374.42" y="214.48" width="12.02" height="12.04" fill="#7869f7"/>
<rect x="385.83" y="214.48" width="12.02" height="12.04" fill="#462cf4"/>
<rect x="397.25" y="214.48" width="12.02" height="12.04" fill="#2a08f2"/>
<rect x="408.66" y="214.48" width="12.02" height="12.04" fill="#2a08f2"/>
<rect x="420.08" y="214.48" width="12.02" height="12.04" fill="#a79ff9"/>
<rect x="431.50" y="214.48" width="12.02" height="12.04" fill="#cec8fa"/>
<rect x="442.91" y="214.48" width="12.02" height="12.04" fill="#dbd6fb"/>
<rect x="454.33" y="214.48" width="12.02" height="12.04" fill="#eeebfb"/>
<rect x="465.74" y="214.48" width="12.02" height="12.04" fill="#f6dede"/>
<rect x="477.16" y="214.48" width="12.02" height="12.04" fill="#f6dede"/>
<rect x="488.58" y="214.48" width="12.02" height="12.04" fill="#eaa6a7"/>
<rect x="499.99" y="214.48" width="12.02" height="12.04" fill="#e48a8c"/>
<rect x="511.41" y="214.48" width="12.02" height="12.04" fill="#dd7072"/>
<rect x="522.82" y="214.48" width="12.02" height="12.04" fill="#d23e41"/>
<rect x="534.24" y="214.48" width="12.02" height="12.04" fill="#d75255"/>
<rect x="545.66" y="214.48" width="12.02" height="12.04" fill="#e48a8c"/>
<rect x="557.07" y="214.48" width="12.02" height="12.04" fill="#ecb1b2"/>
<rect x="568.49" y="214.48" width="12.02" height="12.04" fill="#ecb1b2"/>
<rect x="579.90" y="214.48" width="12.02" height="12.04" fill="#dbd6fb"/>
<rect x="591.32" y="214.48" width="12.02" height="12.04" fill="#f8e7e7"/>
<rect x="602.74" y="214.48" width="12.02" height="12.04" fill="#fbf4f4"/>
<rect x="614.15" y="214.48" width="12.02" height="12.04" fill="#e3dffb"/>
<rect x="625.57" y="214.48" width="12.02" height="12.04" fill="#faeeee"/>
<rect x="636.98" y="214.48" width="12.02" height="12.04" fill="#eeebfb"/>
<rect x="363.00" y="225.92" width="12.02" height="12.04" fill="#3718f3"/>
<rect x="374.42" y="225.92" width="12.02" height="12.04" fill="#462cf4"/>
<rect x="385.83" y="225.92" width="12.02" height="12.04" fill="#4226f4"/>
<rect x="397.25" y="225.92" width="12.02" height="12.04" fill="#4226f4"/>
<rect x="408.66" y="225.92" width="12.02" height="12.04" fill="#9f96f8"/>
<rect x="420.08" y="225.92" width="12.02" height="12.04" fill="#dfdbfb"/>
<rect x="431.50" y="225.92" width="12.02" height="12.04" fill="#f9f6fc"/>
<rect x="442.91" y="225.92" width="12.02" height="12.04" fill="#eeebfb"/>
<rect x="454.33" y="225.92" width="12.02" height="12.04" fill="#f6dede"/>
<rect x="465.74" y="225.92" width="12.02" height="12.04" fill="#efbebf"/>
<rect x="477.16" y="225.92" width="12.02" height="12.04" fill="#eaa6a7"/>
<rect x="488.58" y="225.92" width="12.02" height="12.04" fill="#eaa6a7"/>
<rect x="499.99" y="225.92" width="12.02" height="12.04" fill="#db6769"/>
<rect x="511.41" y="225.92" width="12.02" height="12.04" fill="#d23e41"/>
<rect x="522.82" y="225.92" width="12.02" height="12.04" fill="#db6769"/>
<rect x="534.24" y="225.92" width="12.02" height="12.04" fill="#dd7072"/>
<rect x="545.66" y="225.92" width="12.02" height="12.04" fill="#de7476"/>
<rect x="557.07" y="225.92" width="12.02" height="12.04" fill="#ecb1b2"/>
<rect x="568.49" y="225.92" width="12.02" height="12.04" fill="#fbf4f4"/>
<rect x="579.90" y="225.92" width="12.02" height="12.04" fill="#f8e4e5"/>
<rect x="591.32" y="225.92" width="12.02" height="12.04" fill="#fcf9f9"/>
<rect x="602.74" y="225.92" width="12.02" height="12.04" fill="#e8e4fb"/>
<rect x="614.15" y="225.92" width="12.02" height="12.04" fill="#fdfbfb"/>
<rect x="625.57" y="225.92" width="12.02" height="12.04" fill="#faf0f0"/>
<rect x="636.98" y="225.92" width="12.02" height="12.04" fill="#f8e7e7"/>
<rect x="363.00" y="237.36" width="12.02" height="12.04" fill="#8174f7"/>
<rect x="374.42" y="237.36" width="12.02" height="12.04" fill="#7c6ef7"/>
<rect x="385.83" y="237.36" width="12.02" height="12.04" fill="#4226f4"/>
<rect x="397.25" y="237.36" width="12.02" height="12.04" fill="#7869f7"/>
<rect x="408.66" y="237.36" width="12.02" height="12.04" fill="#dbd6fb"/>
<rect x="420.08" y="237.36" width="12.02" height="12.04" fill="#eeebfb"/>
<rect x="431.50" y="237.36" width="12.02" height="12.04" fill="#f9e9e9"/>
<rect x="442.91" y="237.36" width="12.02" height="12.04" fill="#fbf2f2"/>
<rect x="454.33" y="237.36" width="12.02" height="12.04" fill="#ecb1b2"/>
<rect x="465.74" y="237.36" width="12.02" height="12.04" fill="#e48a8c"/>
<rect x="477.16" y="237.36" width="12.02" height="12.04" fill="#e59193"/>
<rect x="488.58" y="237.36" width="12.02" height="12.04" fill="#db6769"/>
<rect x="499.99" y="237.36" width="12.02" height="12.04" fill="#d13a3d"/>
<rect x="511.41" y="237.36" width="12.02" height="12.04" fill="#d23e41"/>
<rect x="522.82" y="237.36" width="12.02" height="12.04" fill="#d8575a"/>
<rect x="534.24" y="237.36" width="12.02" height="12.04" fill="#db6769"/>
<rect x="545.66" y="237.36" width="12.02" height="12.04" fill="#de7476"/>
<rect x="557.07" y="237.36" width="12.02" height="12.04" fill="#f4d2d3"/>
<rect x="568.49" y="237.36" width="12.02" height="12.04" fill="#f5d7d8"/>
<rect x="579.90" y="237.36" width="12.02" height="12.04" fill="#fdfbfb"/>
<rect x="591.32" y="237.36" width="12.02" height="12.04" fill="#f0edfc"/>
<rect x="602.74" y="237.36" width="12.02" height="12.04" fill="#fdfbfb"/>
<rect x="614.15" y="237.36" width="12.02" height="12.04" fill="#f8e4e5"/>
<rect x="625.57" y="237.36" width="12.02" height="12.04" fill="#f8e4e5"/>
<rect x="636.98" y="237.36" width="12.02" height="12.04" fill="#e3dffb"/>
<rect x="363.00" y="248.80" width="12.02" height="12.04" fill="#7869f7"/>
<rect x="374.42" y="248.80" width="12.02" height="12.04" fill="#604df6"/>
<rect x="385.83" y="248.80" width="12.02" height="12.04" fill="#513af5"/>
<rect x="397.25" y="248.80" width="12.02" height="12.04" fill="#9f96f8"/>
<rect x="408.66" y="248.80" width="12.02" height="12.04" fill="#b6aff9"/>
<rect x="420.08" y="248.80" width="12.02" height="12.04" fill="#faf0f0"/>
<rect x="431.50" y="248.80" width="12.02" height="12.04" fill="#fdfbfb"/>
<rect x="442.91" y="248.80" width="12.02" height="12.04" fill="#f4d2d3"/>
<rect x="454.33" y="248.80" width="12.02" height="12.04" fill="#ebacae"/>
<rect x="465.74" y="248.80" width="12.02" height="12.04" fill="#e48a8c"/>
<rect x="477.16" y="248.80" width="12.02" height="12.04" fill="#e48a8c"/>
<rect x="488.58" y="248.80" width="12.02" height="12.04" fill="#d75255"/>
<rect x="499.99" y="248.80" width="12.02" height="12.04" fill="#d23e41"/>
<rect x="511.41" y="248.80" width="12.02" height="12.04" fill="#d4474a"/>
<rect x="522.82" y="248.80" width="12.02" height="12.04" fill="#db6769"/>
<rect x="534.24" y="248.80" width="12.02" height="12.04" fill="#db6769"/>
<rect x="545.66" y="248.80" width="12.02" height="12.04" fill="#e48a8c"/>
<rect x="557.07" y="248.80" width="12.02" height="12.04" fill="#f4d2d3"/>
<rect x="568.49" y="248.80" width="12.02" height="12.04" fill="#fdfbfb"/>
<rect x="579.90" y="248.80" width="12.02" height="12.04" fill="#e5e2fb"/>
<rect x="591.32" y="248.80" width="12.02" height="12.04" fill="#f4f2fc"/>
<rect x="602.74" y="248.80" width="12.02" height="12.04" fill="#f6dede"/>
<rect x="614.15" y="248.80" width="12.02" height="12.04" fill="#fbf4f4"/>
<rect x="625.57" y="248.80" width="12.02" height="12.04" fill="#f4f2fc"/>
<rect x="636.98" y="248.80" width="12.02" height="12.04" fill="#fbf4f4"/>
<rect x="363.00" y="260.24" width="12.02" height="12.04" fill="#513af5"/>
<rect x="374.42" y="260.24" width="12.02" height="12.04" fill="#4226f4"/>
<rect x="385.83" y="260.24" width="12.02" height="12.04" fill="#7c6ef7"/>
<rect x="397.25" y="260.24" width="12.02" height="12.04" fill="#a39af9"/>
<rect x="408.66" y="260.24" width="12.02" height="12.04" fill="#dbd6fb"/>
<rect x="420.08" y="260.24" width="12.02" height="12.04" fill="#faf0f0"/>
<rect x="431.50" y="260.24" width="12.02" height="12.04" fill="#f3cecf"/>
<rect x="442.91" y="260.24" width="12.02" height="12.04" fill="#e48a8c"/>
<rect x="454.33" y="260.24" width="12.02" height="12.04" fill="#f2caca"/>
<rect x="465.74" y="260.24" width="12.02" height="12.04" fill="#eeb8b9"/>
<rect x="477.16" y="260.24" width="12.02" height="12.04" fill="#dd7072"/>
<rect x="488.58" y="260.24" width="12.02" height="12.04" fill="#d4474a"/>
<rect x="499.99" y="260.24" width="12.02" height="12.04" fill="#cf3034"/>
<rect x="511.41" y="260.24" width="12.02" height="12.04" fill="#d4474a"/>
<rect x="522.82" y="260.24" width="12.02" height="12.04" fill="#d23e41"/>
<rect x="534.24" y="260.24" width="12.02" height="12.04" fill="#d4474a"/>
<rect x="545.66" y="260.24" width="12.02" height="12.04" fill="#eaa6a7"/>
<rect x="557.07" y="260.24" width="12.02" height="12.04" fill="#f4d2d3"/>
<rect x="568.49" y="260.24" width="12.02" height="12.04" fill="#dfdbfb"/>
<rect x="579.90" y="260.24" width="12.02" height="12.04" fill="#e3dffb"/>
<rect x="591.32" y="260.24" width="12.02" height="12.04" fill="#f6dede"/>
<rect x="602.74" y="260.24" width="12.02" height="12.04" fill="#f4f2fc"/>
<rect x="614.15" y="260.24" width="12.02" height="12.04" fill="#fbf2f2"/>
<rect x="625.57" y="260.24" width="12.02" height="12.04" fill="#efbebf"/>
<rect x="636.98" y="260.24" width="12.02" height="12.04" fill="#d2cdfa"/>
<rect x="363.00" y="271.68" width="12.02" height="12.04" fill="#968df8"/>
<rect x="374.42" y="271.68" width="12.02" height="12.04" fill="#6b5af7"/>
<rect x="385.83" y="271.68" width="12.02" height="12.04" fill="#897ef8"/>
<rect x="397.25" y="271.68" width="12.02" height="12.04" fill="#9b91f8"/>
<rect x="408.66" y="271.68" width="12.02" height="12.04" fill="#f4f2fc"/>
<rect x="420.08" y="271.68" width="12.02" height="12.04" fill="#fcf9f9"/>
<rect x="431.50" y="271.68" width="12.02" height="12.04" fill="#eeb8b9"/>
<rect x="442.91" y="271.68" width="12.02" height="12.04" fill="#f4d2d3"/>
<rect x="454.33" y="271.68" width="12.02" height="12.04" fill="#fdfbfb"/>
<rect x="465.74" y="271.68" width="12.02" height="12.04" fill="#e9a1a3"/>
<rect x="477.16" y="271.68" width="12.02" height="12.04" fill="#e48a8c"/>
<rect x="488.58" y="271.68" width="12.02" height="12.04" fill="#d03539"/>
<rect x="499.99" y="271.68" width="12.02" height="12.04" fill="#d03539"/>
<rect x="511.41" y="271.68" width="12.02" height="12.04" fill="#d64e51"/>
<rect x="522.82" y="271.68" width="12.02" height="12.04" fill="#d8575a"/>
<rect x="534.24" y="271.68" width="12.02" height="12.04" fill="#da6265"/>
<rect x="545.66" y="271.68" width="12.02" height="12.04" fill="#f6dede"/>
<rect x="557.07" y="271.68" width="12.02" height="12.04" fill="#fbf2f2"/>
<rect x="568.49" y="271.68" width="12.02" height="12.04" fill="#fdfbfb"/>
<rect x="579.90" y="271.68" width="12.02" height="12.04" fill="#f9e9e9"/>
<rect x="591.32" y="271.68" width="12.02" height="12.04" fill="#f4f2fc"/>
<rect x="602.74" y="271.68" width="12.02" height="12.04" fill="#f8e4e5"/>
<rect x="614.15" y="271.68" width="12.02" height="12.04" fill="#eebabb"/>
<rect x="625.57" y="271.68" width="12.02" height="12.04" fill="#eeebfb"/>
<rect x="636.98" y="271.68" width="12.02" height="12.04" fill="#b0a8f9"/>
<rect x="363.00" y="283.12" width="12.02" height="12.04" fill="#968df8"/>
<rect x="374.42" y="283.12" width="12.02" height="12.04" fill="#6b5af7"/>
<rect x="385.83" y="283.12" width="12.02" height="12.04" fill="#7262f7"/>
<rect x="397.25" y="283.12" width="12.02" height="12.04" fill="#b0a8f9"/>
<rect x="408.66" y="283.12" width="12.02" height="12.04" fill="#dfdbfb"/>
<rect x="420.08" y="283.12" width="12.02" height="12.04" fill="#f8e4e5"/>
<rect x="431.50" y="283.12" width="12.02" height="12.04" fill="#f3cecf"/>
<rect x="442.91" y="283.12" width="12.02" height="12.04" fill="#eaa6a7"/>
<rect x="454.33" y="283.12" width="12.02" height="12.04" fill="#f8e4e5"/>
<rect x="465.74" y="283.12" width="12.02" height="12.04" fill="#e48a8c"/>
<rect x="477.16" y="283.12" width="12.02" height="12.04" fill="#db6769"/>
<rect x="488.58" y="283.12" width="12.02" height="12.04" fill="#d03539"/>
<rect x="499.99" y="283.12" width="12.02" height="12.04" fill="#d03539"/>
<rect x="511.41" y="283.12" width="12.02" height="12.04" fill="#dd7072"/>
<rect x="522.82" y="283.12" width="12.02" height="12.04" fill="#d8575a"/>
<rect x="534.24" y="283.12" width="12.02" height="12.04" fill="#f2caca"/>
<rect x="545.66" y="283.12" width="12.02" height="12.04" fill="#f8e4e5"/>
<rect x="557.07" y="283.12" width="12.02" height="12.04" fill="#f5d7d8"/>
<rect x="568.49" y="283.12" width="12.02" height="12.04" fill="#f5d7d8"/>
<rect x="579.90" y="283.12" width="12.02" height="12.04" fill="#fdfbfb"/>
<rect x="591.32" y="283.12" width="12.02" height="12.04" fill="#fbf4f4"/>
<rect x="602.74" y="283.12" width="12.02" height="12.04" fill="#efbebf"/>
<rect x="614.15" y="283.12" width="12.02" height="12.04" fill="#fbf4f4"/>
<rect x="625.57" y="283.12" width="12.02" height="12.04" fill="#eeebfb"/>
<rect x="636.98" y="283.12" width="12.02" height="12.04" fill="#a39af9"/>
<rect x="363.00" y="294.56" width="12.02" height="12.04" fill="#7c6ef7"/>
<rect x="374.42" y="294.56" width="12.02" height="12.04" fill="#7262f7"/>
<rect x="385.83" y="294.56" width="12.02" height="12.04" fill="#8174f7"/>
<rect x="397.25" y="294.56" width="12.02" height="12.04" fill="#dbd6fb"/>
<rect x="408.66" y="294.56" width="12.02" height="12.04" fill="#e8e4fb"/>
<rect x="420.08" y="294.56" width="12.02" height="12.04" fill="#f8e4e5"/>
<rect x="431.50" y="294.56" width="12.02" height="12.04" fill="#faf0f0"/>
<rect x="442.91" y="294.56" width="12.02" height="12.04" fill="#f5d7d8"/>
<rect x="454.33" y="294.56" width="12.02" height="12.04" fill="#e48a8c"/>
<rect x="465.74" y="294.56" width="12.02" height="12.04" fill="#e17f81"/>
<rect x="477.16" y="294.56" width="12.02" height="12.04" fill="#d23e41"/>
<rect x="488.58" y="294.56" width="12.02" height="12.04" fill="#ca1a1e"/>
<rect x="499.99" y="294.56" width="12.02" height="12.04" fill="#d64e51"/>
<rect x="511.41" y="294.56" width="12.02" height="12.04" fill="#d8575a"/>
<rect x="522.82" y="294.56" width="12.02" height="12.04" fill="#e59193"/>
<rect x="534.24" y="294.56" width="12.02" height="12.04" fill="#eeb8b9"/>
<rect x="545.66" y="294.56" width="12.02" height="12.04" fill="#f8e4e5"/>
<rect x="557.07" y="294.56" width="12.02" height="12.04" fill="#eebabb"/>
<rect x="568.49" y="294.56" width="12.02" height="12.04" fill="#f8e4e5"/>
<rect x="579.90" y="294.56" width="12.02" height="12.04" fill="#f5d7d8"/>
<rect x="591.32" y="294.56" width="12.02" height="12.04" fill="#ecb1b2"/>
<rect x="602.74" y="294.56" width="12.02" height="12.04" fill="#f8e4e5"/>
<rect x="614.15" y="294.56" width="12.02" height="12.04" fill="#f9f6fc"/>
<rect x="625.57" y="294.56" width="12.02" height="12.04" fill="#b6aff9"/>
<rect x="636.98" y="294.56" width="12.02" height="12.04" fill="#8579f8"/>
</g>
<rect x="363.00" y="191.60" width="285.40" height="114.40" fill="none" stroke="#2a2a2a" stroke-width="1"/>
<path d="M368.71 306.00v3.2M368.71 191.60v-3.2M363.00 197.32h-3.2M425.79 306.00v3.2M425.79 191.60v-3.2M363.00 220.20h-3.2M482.87 306.00v3.2M482.87 191.60v-3.2M363.00 243.08h-3.2M539.95 306.00v3.2M539.95 191.60v-3.2M363.00 265.96h-3.2M597.03 306.00v3.2M597.03 191.60v-3.2M363.00 288.84h-3.2" stroke="#2a2a2a" stroke-width="0.9" fill="none"/>
<text x="369.61" y="321.10" font-size="10.2" text-anchor="middle" textLength="14.79" lengthAdjust="spacingAndGlyphs" class="tl">1.4</text>
<text x="357.70" y="201.42" font-size="10.2" text-anchor="end" textLength="5.91" lengthAdjust="spacingAndGlyphs" class="tl">6</text>
<text x="426.69" y="321.10" font-size="10.2" text-anchor="middle" textLength="20.70" lengthAdjust="spacingAndGlyphs" class="tl">1.65</text>
<text x="357.70" y="224.30" font-size="10.2" text-anchor="end" textLength="5.91" lengthAdjust="spacingAndGlyphs" class="tl">8</text>
<text x="483.77" y="321.10" font-size="10.2" text-anchor="middle" textLength="14.79" lengthAdjust="spacingAndGlyphs" class="tl">1.9</text>
<text x="357.70" y="247.18" font-size="10.2" text-anchor="end" textLength="11.83" lengthAdjust="spacingAndGlyphs" class="tl">10</text>
<text x="540.85" y="321.10" font-size="10.2" text-anchor="middle" textLength="20.70" lengthAdjust="spacingAndGlyphs" class="tl">2.15</text>
<text x="357.70" y="270.06" font-size="10.2" text-anchor="end" textLength="11.83" lengthAdjust="spacingAndGlyphs" class="tl">12</text>
<text x="597.93" y="321.10" font-size="10.2" text-anchor="middle" textLength="14.79" lengthAdjust="spacingAndGlyphs" class="tl">2.4</text>
<text x="357.70" y="292.94" font-size="10.2" text-anchor="end" textLength="11.83" lengthAdjust="spacingAndGlyphs" class="tl">14</text>
<circle cx="539.95" cy="265.96" r="2.00" fill="#000"/>
<circle cx="528.53" cy="288.84" r="2.00" fill="#000"/>
<circle cx="505.70" cy="288.84" r="2.80" fill="#000"/>
<text x="491.60" y="292.10" font-size="11.6" fill="#111" stroke="#111" stroke-width="0.25">4</text>
<text x="481.50" y="178.30" font-size="14" font-weight="bold" fill="#000" stroke="#000" stroke-width="0.35">d</text>
<text x="498.40" y="178.65" font-size="11.7" font-weight="bold" style="font-family:'Liberation Serif',serif" textLength="36.1" lengthAdjust="spacingAndGlyphs" fill="#000" stroke="#000" stroke-width="0.3">Porter5</text>
<rect x="670.50" y="20.30" width="14.00" height="285.00" fill="url(#cb)" stroke="#2a2a2a" stroke-width="0.9"/>
<path d="M684.50 20.30h3" stroke="#2a2a2a" stroke-width="0.9"/>
<text x="697.6" y="24.10" font-size="11.4" textLength="22.8" lengthAdjust="spacingAndGlyphs" class="al">0.42</text>
<path d="M684.50 162.80h3" stroke="#2a2a2a" stroke-width="0.9"/>
<text x="697.6" y="167.00" font-size="11.4" textLength="22.8" lengthAdjust="spacingAndGlyphs" class="al">0.21</text>
<path d="M684.50 305.30h3" stroke="#2a2a2a" stroke-width="0.9"/>
<text x="697.6" y="310.10" font-size="11.4" textLength="16.6" lengthAdjust="spacingAndGlyphs" class="al">0.0</text>
<text x="269.0" y="343.8" font-size="11.2" textLength="149.6" lengthAdjust="spacingAndGlyphs" class="al">Diversity index (DI) threshold</text>
<text transform="translate(10.6 245.2) rotate(-90)" x="0" y="0" font-size="11.2" textLength="189.6" lengthAdjust="spacingAndGlyphs" class="al">Number of consecutive residues (CR)</text>
<text transform="translate(734.2 250.5) rotate(-90)" x="0" y="0" font-size="11.2" textLength="196.2" lengthAdjust="spacingAndGlyphs" class="al">Matthews correlation coefficient (MCC)</text>
</svg></body></html>
